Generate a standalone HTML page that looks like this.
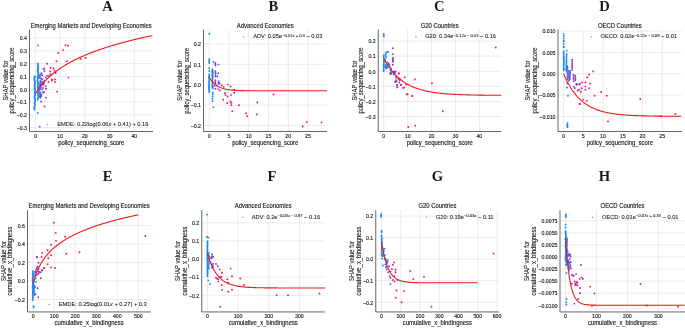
<!DOCTYPE html>
<html><head><meta charset="utf-8"><style>
html,body{margin:0;padding:0;background:#fff;width:685px;height:328px;overflow:hidden}
svg{display:block;will-change:transform}

</style></head><body>
<svg width="685" height="328" viewBox="0 0 685 328" font-family='"Liberation Sans", sans-serif' fill="#1a1a1a">
<rect width="685" height="328" fill="#fff"/>
<line x1="35.35" y1="29.5" x2="35.35" y2="131" stroke="#e6e6e6" stroke-width="0.8"/>
<line x1="60.09" y1="29.5" x2="60.09" y2="131" stroke="#e6e6e6" stroke-width="0.8"/>
<line x1="84.83" y1="29.5" x2="84.83" y2="131" stroke="#e6e6e6" stroke-width="0.8"/>
<line x1="109.57" y1="29.5" x2="109.57" y2="131" stroke="#e6e6e6" stroke-width="0.8"/>
<line x1="134.31" y1="29.5" x2="134.31" y2="131" stroke="#e6e6e6" stroke-width="0.8"/>
<line x1="29.5" y1="38.00" x2="153" y2="38.00" stroke="#e6e6e6" stroke-width="0.8"/>
<line x1="29.5" y1="50.80" x2="153" y2="50.80" stroke="#e6e6e6" stroke-width="0.8"/>
<line x1="29.5" y1="63.60" x2="153" y2="63.60" stroke="#e6e6e6" stroke-width="0.8"/>
<line x1="29.5" y1="76.40" x2="153" y2="76.40" stroke="#e6e6e6" stroke-width="0.8"/>
<line x1="29.5" y1="89.20" x2="153" y2="89.20" stroke="#e6e6e6" stroke-width="0.8"/>
<line x1="29.5" y1="102.00" x2="153" y2="102.00" stroke="#e6e6e6" stroke-width="0.8"/>
<line x1="29.5" y1="114.80" x2="153" y2="114.80" stroke="#e6e6e6" stroke-width="0.8"/>
<line x1="29.5" y1="127.60" x2="153" y2="127.60" stroke="#e6e6e6" stroke-width="0.8"/>
<line x1="209.25" y1="29.5" x2="209.25" y2="131" stroke="#e6e6e6" stroke-width="0.8"/>
<line x1="229.00" y1="29.5" x2="229.00" y2="131" stroke="#e6e6e6" stroke-width="0.8"/>
<line x1="248.75" y1="29.5" x2="248.75" y2="131" stroke="#e6e6e6" stroke-width="0.8"/>
<line x1="268.50" y1="29.5" x2="268.50" y2="131" stroke="#e6e6e6" stroke-width="0.8"/>
<line x1="288.25" y1="29.5" x2="288.25" y2="131" stroke="#e6e6e6" stroke-width="0.8"/>
<line x1="308.00" y1="29.5" x2="308.00" y2="131" stroke="#e6e6e6" stroke-width="0.8"/>
<line x1="203.5" y1="43.90" x2="327" y2="43.90" stroke="#e6e6e6" stroke-width="0.8"/>
<line x1="203.5" y1="64.30" x2="327" y2="64.30" stroke="#e6e6e6" stroke-width="0.8"/>
<line x1="203.5" y1="84.70" x2="327" y2="84.70" stroke="#e6e6e6" stroke-width="0.8"/>
<line x1="203.5" y1="105.10" x2="327" y2="105.10" stroke="#e6e6e6" stroke-width="0.8"/>
<line x1="203.5" y1="125.50" x2="327" y2="125.50" stroke="#e6e6e6" stroke-width="0.8"/>
<line x1="383.75" y1="29.5" x2="383.75" y2="131" stroke="#e6e6e6" stroke-width="0.8"/>
<line x1="407.65" y1="29.5" x2="407.65" y2="131" stroke="#e6e6e6" stroke-width="0.8"/>
<line x1="431.55" y1="29.5" x2="431.55" y2="131" stroke="#e6e6e6" stroke-width="0.8"/>
<line x1="455.45" y1="29.5" x2="455.45" y2="131" stroke="#e6e6e6" stroke-width="0.8"/>
<line x1="479.35" y1="29.5" x2="479.35" y2="131" stroke="#e6e6e6" stroke-width="0.8"/>
<line x1="378.25" y1="41.05" x2="501.25" y2="41.05" stroke="#e6e6e6" stroke-width="0.8"/>
<line x1="378.25" y1="56.15" x2="501.25" y2="56.15" stroke="#e6e6e6" stroke-width="0.8"/>
<line x1="378.25" y1="71.25" x2="501.25" y2="71.25" stroke="#e6e6e6" stroke-width="0.8"/>
<line x1="378.25" y1="86.35" x2="501.25" y2="86.35" stroke="#e6e6e6" stroke-width="0.8"/>
<line x1="378.25" y1="101.45" x2="501.25" y2="101.45" stroke="#e6e6e6" stroke-width="0.8"/>
<line x1="378.25" y1="116.55" x2="501.25" y2="116.55" stroke="#e6e6e6" stroke-width="0.8"/>
<line x1="563.50" y1="29.5" x2="563.50" y2="131" stroke="#e6e6e6" stroke-width="0.8"/>
<line x1="583.25" y1="29.5" x2="583.25" y2="131" stroke="#e6e6e6" stroke-width="0.8"/>
<line x1="603.00" y1="29.5" x2="603.00" y2="131" stroke="#e6e6e6" stroke-width="0.8"/>
<line x1="622.75" y1="29.5" x2="622.75" y2="131" stroke="#e6e6e6" stroke-width="0.8"/>
<line x1="642.50" y1="29.5" x2="642.50" y2="131" stroke="#e6e6e6" stroke-width="0.8"/>
<line x1="662.25" y1="29.5" x2="662.25" y2="131" stroke="#e6e6e6" stroke-width="0.8"/>
<line x1="558" y1="31.15" x2="681.75" y2="31.15" stroke="#e6e6e6" stroke-width="0.8"/>
<line x1="558" y1="52.45" x2="681.75" y2="52.45" stroke="#e6e6e6" stroke-width="0.8"/>
<line x1="558" y1="73.75" x2="681.75" y2="73.75" stroke="#e6e6e6" stroke-width="0.8"/>
<line x1="558" y1="95.05" x2="681.75" y2="95.05" stroke="#e6e6e6" stroke-width="0.8"/>
<line x1="558" y1="116.35" x2="681.75" y2="116.35" stroke="#e6e6e6" stroke-width="0.8"/>
<line x1="33.20" y1="210.25" x2="33.20" y2="311" stroke="#e6e6e6" stroke-width="0.8"/>
<line x1="54.21" y1="210.25" x2="54.21" y2="311" stroke="#e6e6e6" stroke-width="0.8"/>
<line x1="75.22" y1="210.25" x2="75.22" y2="311" stroke="#e6e6e6" stroke-width="0.8"/>
<line x1="96.23" y1="210.25" x2="96.23" y2="311" stroke="#e6e6e6" stroke-width="0.8"/>
<line x1="117.24" y1="210.25" x2="117.24" y2="311" stroke="#e6e6e6" stroke-width="0.8"/>
<line x1="138.25" y1="210.25" x2="138.25" y2="311" stroke="#e6e6e6" stroke-width="0.8"/>
<line x1="27.5" y1="225.50" x2="150.75" y2="225.50" stroke="#e6e6e6" stroke-width="0.8"/>
<line x1="27.5" y1="244.00" x2="150.75" y2="244.00" stroke="#e6e6e6" stroke-width="0.8"/>
<line x1="27.5" y1="262.50" x2="150.75" y2="262.50" stroke="#e6e6e6" stroke-width="0.8"/>
<line x1="27.5" y1="281.00" x2="150.75" y2="281.00" stroke="#e6e6e6" stroke-width="0.8"/>
<line x1="27.5" y1="299.50" x2="150.75" y2="299.50" stroke="#e6e6e6" stroke-width="0.8"/>
<line x1="207.40" y1="210.25" x2="207.40" y2="311" stroke="#e6e6e6" stroke-width="0.8"/>
<line x1="238.07" y1="210.25" x2="238.07" y2="311" stroke="#e6e6e6" stroke-width="0.8"/>
<line x1="268.74" y1="210.25" x2="268.74" y2="311" stroke="#e6e6e6" stroke-width="0.8"/>
<line x1="299.41" y1="210.25" x2="299.41" y2="311" stroke="#e6e6e6" stroke-width="0.8"/>
<line x1="201.75" y1="222.80" x2="324.75" y2="222.80" stroke="#e6e6e6" stroke-width="0.8"/>
<line x1="201.75" y1="240.90" x2="324.75" y2="240.90" stroke="#e6e6e6" stroke-width="0.8"/>
<line x1="201.75" y1="259.00" x2="324.75" y2="259.00" stroke="#e6e6e6" stroke-width="0.8"/>
<line x1="201.75" y1="277.10" x2="324.75" y2="277.10" stroke="#e6e6e6" stroke-width="0.8"/>
<line x1="201.75" y1="295.20" x2="324.75" y2="295.20" stroke="#e6e6e6" stroke-width="0.8"/>
<line x1="381.50" y1="210.25" x2="381.50" y2="311" stroke="#e6e6e6" stroke-width="0.8"/>
<line x1="400.75" y1="210.25" x2="400.75" y2="311" stroke="#e6e6e6" stroke-width="0.8"/>
<line x1="420.00" y1="210.25" x2="420.00" y2="311" stroke="#e6e6e6" stroke-width="0.8"/>
<line x1="439.25" y1="210.25" x2="439.25" y2="311" stroke="#e6e6e6" stroke-width="0.8"/>
<line x1="458.50" y1="210.25" x2="458.50" y2="311" stroke="#e6e6e6" stroke-width="0.8"/>
<line x1="477.75" y1="210.25" x2="477.75" y2="311" stroke="#e6e6e6" stroke-width="0.8"/>
<line x1="497.00" y1="210.25" x2="497.00" y2="311" stroke="#e6e6e6" stroke-width="0.8"/>
<line x1="375.75" y1="215.98" x2="499" y2="215.98" stroke="#e6e6e6" stroke-width="0.8"/>
<line x1="375.75" y1="237.54" x2="499" y2="237.54" stroke="#e6e6e6" stroke-width="0.8"/>
<line x1="375.75" y1="259.10" x2="499" y2="259.10" stroke="#e6e6e6" stroke-width="0.8"/>
<line x1="375.75" y1="280.66" x2="499" y2="280.66" stroke="#e6e6e6" stroke-width="0.8"/>
<line x1="375.75" y1="302.22" x2="499" y2="302.22" stroke="#e6e6e6" stroke-width="0.8"/>
<line x1="565.50" y1="210.25" x2="565.50" y2="311" stroke="#e6e6e6" stroke-width="0.8"/>
<line x1="596.45" y1="210.25" x2="596.45" y2="311" stroke="#e6e6e6" stroke-width="0.8"/>
<line x1="627.40" y1="210.25" x2="627.40" y2="311" stroke="#e6e6e6" stroke-width="0.8"/>
<line x1="658.35" y1="210.25" x2="658.35" y2="311" stroke="#e6e6e6" stroke-width="0.8"/>
<line x1="560" y1="220.82" x2="685" y2="220.82" stroke="#e6e6e6" stroke-width="0.8"/>
<line x1="560" y1="232.88" x2="685" y2="232.88" stroke="#e6e6e6" stroke-width="0.8"/>
<line x1="560" y1="244.94" x2="685" y2="244.94" stroke="#e6e6e6" stroke-width="0.8"/>
<line x1="560" y1="257.00" x2="685" y2="257.00" stroke="#e6e6e6" stroke-width="0.8"/>
<line x1="560" y1="269.06" x2="685" y2="269.06" stroke="#e6e6e6" stroke-width="0.8"/>
<line x1="560" y1="281.12" x2="685" y2="281.12" stroke="#e6e6e6" stroke-width="0.8"/>
<line x1="560" y1="293.18" x2="685" y2="293.18" stroke="#e6e6e6" stroke-width="0.8"/>
<line x1="560" y1="305.24" x2="685" y2="305.24" stroke="#e6e6e6" stroke-width="0.8"/>
<circle cx="34.62" cy="76.00" r="0.85" fill="#1a8cf0"/>
<circle cx="34.95" cy="76.63" r="0.85" fill="#1a8cf0"/>
<circle cx="34.84" cy="77.23" r="0.85" fill="#1a8cf0"/>
<circle cx="34.36" cy="77.96" r="0.85" fill="#1a8cf0"/>
<circle cx="34.34" cy="78.77" r="0.85" fill="#1a8cf0"/>
<circle cx="34.37" cy="79.53" r="0.85" fill="#1a8cf0"/>
<circle cx="34.72" cy="80.14" r="0.85" fill="#1a8cf0"/>
<circle cx="34.42" cy="81.09" r="0.85" fill="#1a8cf0"/>
<circle cx="34.93" cy="81.76" r="0.85" fill="#1a8cf0"/>
<circle cx="34.88" cy="82.78" r="0.85" fill="#1a8cf0"/>
<circle cx="35.28" cy="83.53" r="0.85" fill="#1a8cf0"/>
<circle cx="35.16" cy="84.11" r="0.85" fill="#1a8cf0"/>
<circle cx="34.44" cy="84.81" r="0.85" fill="#1a8cf0"/>
<circle cx="34.61" cy="85.43" r="0.85" fill="#1a8cf0"/>
<circle cx="34.48" cy="86.38" r="0.85" fill="#1a8cf0"/>
<circle cx="34.94" cy="87.22" r="0.85" fill="#1a8cf0"/>
<circle cx="34.85" cy="87.95" r="0.85" fill="#1a8cf0"/>
<circle cx="34.36" cy="88.55" r="0.85" fill="#1a8cf0"/>
<circle cx="34.98" cy="89.20" r="0.85" fill="#1a8cf0"/>
<circle cx="34.61" cy="89.97" r="0.85" fill="#1a8cf0"/>
<circle cx="34.75" cy="90.81" r="0.85" fill="#1a8cf0"/>
<circle cx="35.09" cy="91.51" r="0.85" fill="#1a8cf0"/>
<circle cx="34.54" cy="92.41" r="0.85" fill="#1a8cf0"/>
<circle cx="34.83" cy="93.25" r="0.85" fill="#1a8cf0"/>
<circle cx="35.03" cy="94.23" r="0.85" fill="#1a8cf0"/>
<circle cx="35.28" cy="94.92" r="0.85" fill="#1a8cf0"/>
<circle cx="34.72" cy="95.54" r="0.85" fill="#1a8cf0"/>
<circle cx="34.45" cy="96.46" r="0.85" fill="#1a8cf0"/>
<circle cx="34.34" cy="97.26" r="0.85" fill="#1a8cf0"/>
<circle cx="35.06" cy="98.14" r="0.85" fill="#1a8cf0"/>
<circle cx="35.18" cy="98.97" r="0.85" fill="#1a8cf0"/>
<circle cx="35.00" cy="99.68" r="0.85" fill="#1a8cf0"/>
<circle cx="34.88" cy="100.53" r="0.85" fill="#1a8cf0"/>
<circle cx="35.14" cy="101.31" r="0.85" fill="#1a8cf0"/>
<circle cx="34.77" cy="102.32" r="0.85" fill="#1a8cf0"/>
<circle cx="34.36" cy="103.20" r="0.85" fill="#1a8cf0"/>
<circle cx="34.95" cy="104.10" r="0.85" fill="#1a8cf0"/>
<circle cx="35.12" cy="105.13" r="0.85" fill="#1a8cf0"/>
<circle cx="34.69" cy="105.83" r="0.85" fill="#1a8cf0"/>
<circle cx="34.32" cy="106.71" r="0.85" fill="#1a8cf0"/>
<circle cx="34.47" cy="107.49" r="0.85" fill="#1a8cf0"/>
<circle cx="34.36" cy="108.11" r="0.85" fill="#1a8cf0"/>
<circle cx="34.43" cy="109.04" r="0.85" fill="#1a8cf0"/>
<circle cx="34.69" cy="109.72" r="0.85" fill="#1a8cf0"/>
<circle cx="37.58" cy="63.40" r="0.85" fill="#1a8cf0"/>
<circle cx="38.05" cy="64.18" r="0.85" fill="#1a8cf0"/>
<circle cx="38.32" cy="65.16" r="0.85" fill="#1a8cf0"/>
<circle cx="37.78" cy="66.13" r="0.85" fill="#1a8cf0"/>
<circle cx="37.86" cy="66.89" r="0.85" fill="#1a8cf0"/>
<circle cx="38.46" cy="67.88" r="0.85" fill="#1a8cf0"/>
<circle cx="37.68" cy="68.51" r="0.85" fill="#1a8cf0"/>
<circle cx="37.73" cy="69.18" r="0.85" fill="#1a8cf0"/>
<circle cx="38.09" cy="69.97" r="0.85" fill="#1a8cf0"/>
<circle cx="37.50" cy="70.66" r="0.85" fill="#1a8cf0"/>
<circle cx="37.87" cy="71.42" r="0.85" fill="#1a8cf0"/>
<circle cx="38.45" cy="72.25" r="0.85" fill="#1a8cf0"/>
<circle cx="38.02" cy="73.15" r="0.85" fill="#1a8cf0"/>
<circle cx="38.18" cy="74.00" r="0.85" fill="#1a8cf0"/>
<circle cx="38.40" cy="74.59" r="0.85" fill="#1a8cf0"/>
<circle cx="38.37" cy="75.52" r="0.85" fill="#1a8cf0"/>
<circle cx="37.89" cy="76.46" r="0.85" fill="#1a8cf0"/>
<circle cx="37.60" cy="77.22" r="0.85" fill="#1a8cf0"/>
<circle cx="37.56" cy="78.08" r="0.85" fill="#1a8cf0"/>
<circle cx="37.71" cy="78.67" r="0.85" fill="#1a8cf0"/>
<circle cx="37.84" cy="79.31" r="0.85" fill="#1a8cf0"/>
<circle cx="37.50" cy="79.90" r="0.85" fill="#1a8cf0"/>
<circle cx="37.60" cy="80.53" r="0.85" fill="#1a8cf0"/>
<circle cx="37.53" cy="81.26" r="0.85" fill="#1a8cf0"/>
<circle cx="38.11" cy="82.24" r="0.85" fill="#1a8cf0"/>
<circle cx="37.75" cy="82.87" r="0.85" fill="#1a8cf0"/>
<circle cx="37.86" cy="83.60" r="0.85" fill="#1a8cf0"/>
<circle cx="38.35" cy="84.22" r="0.85" fill="#1a8cf0"/>
<circle cx="37.97" cy="85.26" r="0.85" fill="#1a8cf0"/>
<circle cx="37.59" cy="86.05" r="0.85" fill="#1a8cf0"/>
<circle cx="37.84" cy="86.66" r="0.85" fill="#1a8cf0"/>
<circle cx="38.33" cy="87.35" r="0.85" fill="#1a8cf0"/>
<circle cx="37.52" cy="87.98" r="0.85" fill="#1a8cf0"/>
<circle cx="38.03" cy="89.00" r="0.85" fill="#1a8cf0"/>
<circle cx="38.04" cy="89.63" r="0.85" fill="#1a8cf0"/>
<circle cx="38.03" cy="90.20" r="0.85" fill="#1a8cf0"/>
<circle cx="38.36" cy="91.23" r="0.85" fill="#1a8cf0"/>
<circle cx="37.76" cy="92.13" r="0.85" fill="#1a8cf0"/>
<circle cx="37.67" cy="92.86" r="0.85" fill="#1a8cf0"/>
<circle cx="38.03" cy="93.79" r="0.85" fill="#1a8cf0"/>
<circle cx="37.83" cy="94.73" r="0.85" fill="#1a8cf0"/>
<circle cx="38.31" cy="95.39" r="0.85" fill="#1a8cf0"/>
<circle cx="38.35" cy="96.43" r="0.85" fill="#1a8cf0"/>
<circle cx="38.32" cy="97.37" r="0.85" fill="#1a8cf0"/>
<circle cx="37.73" cy="98.29" r="0.85" fill="#1a8cf0"/>
<circle cx="37.86" cy="99.10" r="0.85" fill="#1a8cf0"/>
<circle cx="37.53" cy="99.67" r="0.85" fill="#1a8cf0"/>
<circle cx="39.39" cy="90.01" r="0.95" fill="#3f78ea"/>
<circle cx="40.43" cy="83.63" r="0.95" fill="#3f78ea"/>
<circle cx="40.41" cy="97.69" r="0.95" fill="#3f78ea"/>
<circle cx="40.43" cy="81.48" r="0.95" fill="#3f78ea"/>
<circle cx="39.33" cy="77.90" r="0.95" fill="#3f78ea"/>
<circle cx="39.30" cy="77.31" r="0.95" fill="#3f78ea"/>
<circle cx="39.94" cy="95.41" r="0.95" fill="#3f78ea"/>
<circle cx="40.26" cy="84.47" r="0.95" fill="#3f78ea"/>
<circle cx="39.98" cy="92.79" r="0.95" fill="#3f78ea"/>
<circle cx="39.13" cy="89.18" r="0.95" fill="#3f78ea"/>
<circle cx="40.36" cy="92.34" r="0.95" fill="#3f78ea"/>
<circle cx="40.13" cy="84.43" r="0.95" fill="#3f78ea"/>
<circle cx="39.27" cy="92.52" r="0.95" fill="#3f78ea"/>
<circle cx="39.50" cy="92.82" r="0.95" fill="#3f78ea"/>
<circle cx="40.46" cy="82.29" r="0.95" fill="#3f78ea"/>
<circle cx="39.60" cy="96.62" r="0.95" fill="#3f78ea"/>
<circle cx="40.09" cy="76.42" r="0.95" fill="#3f78ea"/>
<circle cx="39.19" cy="75.93" r="0.95" fill="#3f78ea"/>
<circle cx="40.36" cy="92.97" r="0.95" fill="#3f78ea"/>
<circle cx="39.22" cy="93.49" r="0.95" fill="#3f78ea"/>
<circle cx="40.47" cy="89.09" r="0.95" fill="#3f78ea"/>
<circle cx="39.53" cy="86.27" r="0.95" fill="#3f78ea"/>
<circle cx="40.26" cy="74.34" r="0.95" fill="#6a55dc"/>
<circle cx="41.94" cy="89.59" r="0.95" fill="#6a55dc"/>
<circle cx="41.05" cy="96.41" r="0.95" fill="#6a55dc"/>
<circle cx="40.87" cy="94.92" r="0.95" fill="#6a55dc"/>
<circle cx="41.65" cy="79.07" r="0.95" fill="#6a55dc"/>
<circle cx="40.50" cy="81.03" r="0.95" fill="#6a55dc"/>
<circle cx="40.48" cy="88.07" r="0.95" fill="#6a55dc"/>
<circle cx="40.52" cy="84.06" r="0.95" fill="#6a55dc"/>
<circle cx="40.26" cy="95.84" r="0.95" fill="#6a55dc"/>
<circle cx="40.71" cy="85.00" r="0.95" fill="#6a55dc"/>
<circle cx="41.17" cy="95.70" r="0.95" fill="#6a55dc"/>
<circle cx="40.84" cy="96.03" r="0.95" fill="#6a55dc"/>
<circle cx="41.00" cy="86.76" r="0.95" fill="#6a55dc"/>
<circle cx="41.05" cy="74.45" r="0.95" fill="#6a55dc"/>
<circle cx="40.88" cy="78.39" r="0.95" fill="#6a55dc"/>
<circle cx="40.01" cy="93.18" r="0.95" fill="#6a55dc"/>
<circle cx="42.02" cy="82.10" r="0.95" fill="#8c3ccc"/>
<circle cx="43.68" cy="84.92" r="0.95" fill="#8c3ccc"/>
<circle cx="42.48" cy="83.62" r="0.95" fill="#8c3ccc"/>
<circle cx="43.17" cy="92.67" r="0.95" fill="#8c3ccc"/>
<circle cx="41.82" cy="85.05" r="0.95" fill="#8c3ccc"/>
<circle cx="42.25" cy="75.42" r="0.95" fill="#8c3ccc"/>
<circle cx="43.82" cy="83.26" r="0.95" fill="#8c3ccc"/>
<circle cx="43.19" cy="91.84" r="0.95" fill="#8c3ccc"/>
<circle cx="44.24" cy="81.07" r="0.95" fill="#8c3ccc"/>
<circle cx="38.10" cy="45.50" r="0.95" fill="#1a8cf0"/>
<circle cx="37.80" cy="112.90" r="0.95" fill="#1a8cf0"/>
<circle cx="39.70" cy="126.80" r="0.95" fill="#3f78ea"/>
<circle cx="65.50" cy="45.20" r="0.95" fill="#f41464"/>
<circle cx="68.00" cy="45.70" r="0.95" fill="#f41464"/>
<circle cx="63.20" cy="50.10" r="0.95" fill="#f41464"/>
<circle cx="58.30" cy="52.90" r="0.95" fill="#f41464"/>
<circle cx="56.50" cy="61.20" r="0.95" fill="#f41464"/>
<circle cx="66.90" cy="61.20" r="0.95" fill="#f41464"/>
<circle cx="50.50" cy="67.80" r="0.95" fill="#f41464"/>
<circle cx="53.50" cy="68.20" r="0.95" fill="#f41464"/>
<circle cx="50.10" cy="71.50" r="0.95" fill="#f41464"/>
<circle cx="50.50" cy="74.30" r="0.95" fill="#f41464"/>
<circle cx="55.60" cy="73.00" r="0.95" fill="#f41464"/>
<circle cx="52.00" cy="79.40" r="0.95" fill="#f41464"/>
<circle cx="52.00" cy="80.60" r="0.95" fill="#f41464"/>
<circle cx="55.00" cy="79.40" r="0.95" fill="#f41464"/>
<circle cx="55.00" cy="82.00" r="0.95" fill="#f41464"/>
<circle cx="68.40" cy="77.60" r="0.95" fill="#f41464"/>
<circle cx="57.10" cy="91.60" r="0.95" fill="#f41464"/>
<circle cx="80.50" cy="59.00" r="0.95" fill="#f41464"/>
<circle cx="85.75" cy="58.00" r="0.95" fill="#f41464"/>
<circle cx="54.50" cy="70.50" r="0.95" fill="#f41464"/>
<circle cx="49.00" cy="76.00" r="0.95" fill="#f41464"/>
<circle cx="47.10" cy="63.80" r="0.95" fill="#c21ea4"/>
<circle cx="46.00" cy="88.70" r="0.95" fill="#c21ea4"/>
<circle cx="48.50" cy="82.00" r="0.95" fill="#c21ea4"/>
<circle cx="43.40" cy="69.00" r="0.95" fill="#8c3ccc"/>
<circle cx="44.40" cy="68.40" r="0.95" fill="#8c3ccc"/>
<circle cx="41.60" cy="73.30" r="0.95" fill="#8c3ccc"/>
<circle cx="47.10" cy="75.70" r="0.95" fill="#8c3ccc"/>
<circle cx="45.90" cy="77.60" r="0.95" fill="#8c3ccc"/>
<circle cx="42.20" cy="79.40" r="0.95" fill="#8c3ccc"/>
<circle cx="42.80" cy="82.40" r="0.95" fill="#8c3ccc"/>
<circle cx="45.90" cy="86.10" r="0.95" fill="#8c3ccc"/>
<circle cx="41.40" cy="95.00" r="0.95" fill="#8c3ccc"/>
<circle cx="46.00" cy="97.80" r="0.95" fill="#8c3ccc"/>
<circle cx="41.00" cy="101.50" r="0.95" fill="#8c3ccc"/>
<circle cx="44.60" cy="106.50" r="0.95" fill="#8c3ccc"/>
<circle cx="44.50" cy="71.00" r="0.95" fill="#8c3ccc"/>
<circle cx="43.00" cy="88.00" r="0.95" fill="#8c3ccc"/>
<circle cx="44.00" cy="92.00" r="0.95" fill="#8c3ccc"/>
<circle cx="209.40" cy="33.80" r="0.95" fill="#1a8cf0"/>
<circle cx="209.22" cy="59.10" r="0.85" fill="#1a8cf0"/>
<circle cx="209.20" cy="60.00" r="0.85" fill="#1a8cf0"/>
<circle cx="209.19" cy="61.01" r="0.85" fill="#1a8cf0"/>
<circle cx="209.20" cy="61.93" r="0.85" fill="#1a8cf0"/>
<circle cx="209.24" cy="63.06" r="0.85" fill="#1a8cf0"/>
<circle cx="209.20" cy="68.30" r="0.95" fill="#1a8cf0"/>
<circle cx="209.20" cy="71.00" r="0.95" fill="#1a8cf0"/>
<circle cx="209.38" cy="74.20" r="0.85" fill="#1a8cf0"/>
<circle cx="209.22" cy="74.88" r="0.85" fill="#1a8cf0"/>
<circle cx="209.34" cy="75.90" r="0.85" fill="#1a8cf0"/>
<circle cx="209.05" cy="76.52" r="0.85" fill="#1a8cf0"/>
<circle cx="209.03" cy="77.30" r="0.85" fill="#1a8cf0"/>
<circle cx="209.03" cy="77.97" r="0.85" fill="#1a8cf0"/>
<circle cx="209.31" cy="78.85" r="0.85" fill="#1a8cf0"/>
<circle cx="209.06" cy="79.84" r="0.85" fill="#1a8cf0"/>
<circle cx="209.26" cy="80.75" r="0.85" fill="#1a8cf0"/>
<circle cx="209.35" cy="81.38" r="0.85" fill="#1a8cf0"/>
<circle cx="209.09" cy="82.40" r="0.85" fill="#1a8cf0"/>
<circle cx="209.16" cy="83.42" r="0.85" fill="#1a8cf0"/>
<circle cx="209.40" cy="84.21" r="0.85" fill="#1a8cf0"/>
<circle cx="209.06" cy="85.17" r="0.85" fill="#1a8cf0"/>
<circle cx="209.21" cy="85.94" r="0.85" fill="#1a8cf0"/>
<circle cx="209.08" cy="86.66" r="0.85" fill="#1a8cf0"/>
<circle cx="209.29" cy="87.37" r="0.85" fill="#1a8cf0"/>
<circle cx="209.22" cy="87.94" r="0.85" fill="#1a8cf0"/>
<circle cx="209.01" cy="88.71" r="0.85" fill="#1a8cf0"/>
<circle cx="209.25" cy="89.43" r="0.85" fill="#1a8cf0"/>
<circle cx="209.03" cy="90.24" r="0.85" fill="#1a8cf0"/>
<circle cx="209.32" cy="91.27" r="0.85" fill="#1a8cf0"/>
<circle cx="209.04" cy="92.30" r="0.85" fill="#1a8cf0"/>
<circle cx="213.60" cy="61.90" r="0.95" fill="#3f78ea"/>
<circle cx="212.33" cy="69.20" r="0.85" fill="#1a8cf0"/>
<circle cx="212.52" cy="70.37" r="0.85" fill="#1a8cf0"/>
<circle cx="212.64" cy="71.15" r="0.85" fill="#1a8cf0"/>
<circle cx="212.96" cy="72.39" r="0.85" fill="#1a8cf0"/>
<circle cx="212.42" cy="73.25" r="0.85" fill="#1a8cf0"/>
<circle cx="212.76" cy="74.50" r="0.85" fill="#1a8cf0"/>
<circle cx="212.37" cy="75.62" r="0.85" fill="#1a8cf0"/>
<circle cx="212.85" cy="76.35" r="0.85" fill="#1a8cf0"/>
<circle cx="212.36" cy="77.31" r="0.85" fill="#1a8cf0"/>
<circle cx="212.81" cy="78.57" r="0.85" fill="#1a8cf0"/>
<circle cx="212.37" cy="79.75" r="0.85" fill="#1a8cf0"/>
<circle cx="212.35" cy="80.97" r="0.85" fill="#1a8cf0"/>
<circle cx="212.66" cy="82.18" r="0.85" fill="#1a8cf0"/>
<circle cx="212.74" cy="83.09" r="0.85" fill="#1a8cf0"/>
<circle cx="212.51" cy="84.34" r="0.85" fill="#1a8cf0"/>
<circle cx="212.72" cy="85.12" r="0.85" fill="#1a8cf0"/>
<circle cx="212.39" cy="85.96" r="0.85" fill="#1a8cf0"/>
<circle cx="212.34" cy="86.76" r="0.85" fill="#1a8cf0"/>
<circle cx="212.55" cy="87.58" r="0.85" fill="#1a8cf0"/>
<circle cx="212.91" cy="88.47" r="0.85" fill="#1a8cf0"/>
<circle cx="212.30" cy="70.00" r="0.85" fill="#3f78ea"/>
<circle cx="212.21" cy="71.29" r="0.85" fill="#3f78ea"/>
<circle cx="212.15" cy="72.43" r="0.85" fill="#3f78ea"/>
<circle cx="212.44" cy="73.56" r="0.85" fill="#3f78ea"/>
<circle cx="212.11" cy="75.21" r="0.85" fill="#3f78ea"/>
<circle cx="212.56" cy="76.79" r="0.85" fill="#3f78ea"/>
<circle cx="212.49" cy="78.01" r="0.85" fill="#3f78ea"/>
<circle cx="212.30" cy="79.54" r="0.85" fill="#3f78ea"/>
<circle cx="212.24" cy="81.47" r="0.85" fill="#3f78ea"/>
<circle cx="212.41" cy="83.07" r="0.85" fill="#3f78ea"/>
<circle cx="212.21" cy="85.14" r="0.85" fill="#3f78ea"/>
<circle cx="212.42" cy="87.05" r="0.85" fill="#3f78ea"/>
<circle cx="212.74" cy="92.80" r="0.95" fill="#1a8cf0"/>
<circle cx="212.71" cy="94.50" r="0.95" fill="#1a8cf0"/>
<circle cx="212.53" cy="96.50" r="0.95" fill="#1a8cf0"/>
<circle cx="212.58" cy="98.80" r="0.95" fill="#1a8cf0"/>
<circle cx="212.54" cy="101.00" r="0.95" fill="#1a8cf0"/>
<circle cx="213.40" cy="107.30" r="0.95" fill="#1a8cf0"/>
<circle cx="215.50" cy="62.80" r="0.85" fill="#6a55dc"/>
<circle cx="215.27" cy="63.65" r="0.85" fill="#6a55dc"/>
<circle cx="215.54" cy="64.40" r="0.85" fill="#6a55dc"/>
<circle cx="215.47" cy="65.63" r="0.85" fill="#6a55dc"/>
<circle cx="215.25" cy="71.00" r="0.85" fill="#6a55dc"/>
<circle cx="215.38" cy="71.88" r="0.85" fill="#6a55dc"/>
<circle cx="215.37" cy="72.67" r="0.85" fill="#6a55dc"/>
<circle cx="215.68" cy="73.53" r="0.85" fill="#6a55dc"/>
<circle cx="215.43" cy="74.81" r="0.85" fill="#6a55dc"/>
<circle cx="215.68" cy="75.66" r="0.85" fill="#6a55dc"/>
<circle cx="215.31" cy="76.54" r="0.85" fill="#6a55dc"/>
<circle cx="215.35" cy="80.00" r="0.85" fill="#8c3ccc"/>
<circle cx="215.40" cy="80.98" r="0.85" fill="#8c3ccc"/>
<circle cx="215.40" cy="81.81" r="0.85" fill="#8c3ccc"/>
<circle cx="215.31" cy="82.51" r="0.85" fill="#8c3ccc"/>
<circle cx="215.36" cy="83.26" r="0.85" fill="#8c3ccc"/>
<circle cx="218.50" cy="64.60" r="0.95" fill="#8c3ccc"/>
<circle cx="218.20" cy="73.30" r="0.95" fill="#8c3ccc"/>
<circle cx="217.30" cy="76.50" r="0.95" fill="#8c3ccc"/>
<circle cx="218.60" cy="81.10" r="0.95" fill="#8c3ccc"/>
<circle cx="218.60" cy="82.40" r="0.95" fill="#8c3ccc"/>
<circle cx="219.60" cy="83.40" r="0.95" fill="#8c3ccc"/>
<circle cx="218.60" cy="83.70" r="0.95" fill="#8c3ccc"/>
<circle cx="215.40" cy="88.70" r="0.95" fill="#8c3ccc"/>
<circle cx="218.20" cy="89.10" r="0.95" fill="#8c3ccc"/>
<circle cx="220.00" cy="90.50" r="0.95" fill="#8c3ccc"/>
<circle cx="214.50" cy="86.00" r="0.95" fill="#8c3ccc"/>
<circle cx="216.50" cy="85.50" r="0.95" fill="#8c3ccc"/>
<circle cx="221.80" cy="85.50" r="0.95" fill="#c21ea4"/>
<circle cx="223.70" cy="86.90" r="0.95" fill="#c21ea4"/>
<circle cx="228.00" cy="84.60" r="0.95" fill="#f41464"/>
<circle cx="230.70" cy="86.40" r="0.95" fill="#f41464"/>
<circle cx="224.90" cy="93.30" r="0.95" fill="#f41464"/>
<circle cx="225.50" cy="95.10" r="0.95" fill="#f41464"/>
<circle cx="227.60" cy="96.50" r="0.95" fill="#f41464"/>
<circle cx="231.00" cy="95.10" r="0.95" fill="#f41464"/>
<circle cx="223.20" cy="99.70" r="0.95" fill="#f41464"/>
<circle cx="227.30" cy="103.30" r="0.95" fill="#f41464"/>
<circle cx="230.50" cy="101.50" r="0.95" fill="#f41464"/>
<circle cx="231.40" cy="102.90" r="0.95" fill="#f41464"/>
<circle cx="231.40" cy="105.20" r="0.95" fill="#f41464"/>
<circle cx="234.30" cy="89.70" r="0.95" fill="#f41464"/>
<circle cx="234.30" cy="92.80" r="0.95" fill="#f41464"/>
<circle cx="273.50" cy="94.50" r="0.95" fill="#f41464"/>
<circle cx="257.25" cy="102.50" r="0.95" fill="#f41464"/>
<circle cx="239.00" cy="105.25" r="0.95" fill="#f41464"/>
<circle cx="232.25" cy="111.25" r="0.95" fill="#f41464"/>
<circle cx="246.00" cy="113.25" r="0.95" fill="#f41464"/>
<circle cx="247.25" cy="116.25" r="0.95" fill="#f41464"/>
<circle cx="256.75" cy="114.50" r="0.95" fill="#f41464"/>
<circle cx="302.75" cy="126.50" r="0.95" fill="#f41464"/>
<circle cx="306.75" cy="122.00" r="0.95" fill="#f41464"/>
<circle cx="321.50" cy="122.50" r="0.95" fill="#f41464"/>
<circle cx="383.61" cy="33.80" r="0.85" fill="#1a8cf0"/>
<circle cx="383.69" cy="34.59" r="0.85" fill="#1a8cf0"/>
<circle cx="383.81" cy="35.54" r="0.85" fill="#1a8cf0"/>
<circle cx="383.86" cy="36.58" r="0.85" fill="#1a8cf0"/>
<circle cx="383.85" cy="55.00" r="0.85" fill="#1a8cf0"/>
<circle cx="383.63" cy="55.75" r="0.85" fill="#1a8cf0"/>
<circle cx="383.56" cy="56.78" r="0.85" fill="#1a8cf0"/>
<circle cx="383.76" cy="57.69" r="0.85" fill="#1a8cf0"/>
<circle cx="383.83" cy="58.27" r="0.85" fill="#1a8cf0"/>
<circle cx="383.75" cy="59.26" r="0.85" fill="#1a8cf0"/>
<circle cx="383.82" cy="60.17" r="0.85" fill="#1a8cf0"/>
<circle cx="383.71" cy="60.80" r="0.85" fill="#1a8cf0"/>
<circle cx="383.83" cy="61.60" r="0.85" fill="#1a8cf0"/>
<circle cx="383.83" cy="62.54" r="0.85" fill="#1a8cf0"/>
<circle cx="383.86" cy="63.38" r="0.85" fill="#1a8cf0"/>
<circle cx="383.78" cy="64.27" r="0.85" fill="#1a8cf0"/>
<circle cx="383.51" cy="64.94" r="0.85" fill="#1a8cf0"/>
<circle cx="383.64" cy="65.57" r="0.85" fill="#1a8cf0"/>
<circle cx="383.83" cy="66.18" r="0.85" fill="#1a8cf0"/>
<circle cx="383.75" cy="67.00" r="0.85" fill="#1a8cf0"/>
<circle cx="383.77" cy="67.87" r="0.85" fill="#1a8cf0"/>
<circle cx="383.50" cy="68.66" r="0.85" fill="#1a8cf0"/>
<circle cx="383.80" cy="69.60" r="0.85" fill="#1a8cf0"/>
<circle cx="383.71" cy="70.40" r="0.85" fill="#1a8cf0"/>
<circle cx="383.53" cy="71.28" r="0.85" fill="#1a8cf0"/>
<circle cx="385.80" cy="52.80" r="0.95" fill="#1a8cf0"/>
<circle cx="387.10" cy="51.90" r="0.95" fill="#1a8cf0"/>
<circle cx="388.30" cy="51.90" r="0.95" fill="#1a8cf0"/>
<circle cx="385.75" cy="54.00" r="0.85" fill="#1a8cf0"/>
<circle cx="385.76" cy="54.89" r="0.85" fill="#1a8cf0"/>
<circle cx="385.72" cy="56.26" r="0.85" fill="#1a8cf0"/>
<circle cx="386.19" cy="57.63" r="0.85" fill="#1a8cf0"/>
<circle cx="385.96" cy="64.75" r="0.95" fill="#1a8cf0"/>
<circle cx="386.71" cy="68.20" r="0.95" fill="#1a8cf0"/>
<circle cx="386.54" cy="66.71" r="0.95" fill="#1a8cf0"/>
<circle cx="385.19" cy="60.77" r="0.95" fill="#1a8cf0"/>
<circle cx="385.63" cy="67.92" r="0.95" fill="#1a8cf0"/>
<circle cx="385.76" cy="65.81" r="0.95" fill="#1a8cf0"/>
<circle cx="385.03" cy="59.73" r="0.95" fill="#1a8cf0"/>
<circle cx="385.67" cy="67.06" r="0.95" fill="#1a8cf0"/>
<circle cx="386.73" cy="67.11" r="0.95" fill="#1a8cf0"/>
<circle cx="387.94" cy="64.58" r="0.95" fill="#3f78ea"/>
<circle cx="388.20" cy="64.33" r="0.95" fill="#3f78ea"/>
<circle cx="387.68" cy="66.47" r="0.95" fill="#3f78ea"/>
<circle cx="387.80" cy="66.89" r="0.95" fill="#3f78ea"/>
<circle cx="392.80" cy="48.20" r="0.95" fill="#8c3ccc"/>
<circle cx="392.80" cy="54.10" r="0.95" fill="#8c3ccc"/>
<circle cx="392.80" cy="64.70" r="0.95" fill="#8c3ccc"/>
<circle cx="392.97" cy="57.80" r="0.85" fill="#8c3ccc"/>
<circle cx="392.78" cy="58.44" r="0.85" fill="#8c3ccc"/>
<circle cx="392.99" cy="59.51" r="0.85" fill="#8c3ccc"/>
<circle cx="392.71" cy="60.38" r="0.85" fill="#8c3ccc"/>
<circle cx="392.98" cy="61.13" r="0.85" fill="#8c3ccc"/>
<circle cx="392.83" cy="61.87" r="0.85" fill="#8c3ccc"/>
<circle cx="390.84" cy="73.96" r="0.95" fill="#6a55dc"/>
<circle cx="390.14" cy="72.99" r="0.95" fill="#6a55dc"/>
<circle cx="390.82" cy="73.47" r="0.95" fill="#6a55dc"/>
<circle cx="391.17" cy="68.69" r="0.95" fill="#6a55dc"/>
<circle cx="391.52" cy="70.55" r="0.95" fill="#6a55dc"/>
<circle cx="389.94" cy="67.03" r="0.95" fill="#6a55dc"/>
<circle cx="387.40" cy="62.40" r="0.95" fill="#6a55dc"/>
<circle cx="388.50" cy="63.50" r="0.95" fill="#6a55dc"/>
<circle cx="389.50" cy="65.00" r="0.95" fill="#6a55dc"/>
<circle cx="390.50" cy="70.40" r="0.95" fill="#6a55dc"/>
<circle cx="390.80" cy="72.50" r="0.95" fill="#6a55dc"/>
<circle cx="390.50" cy="74.00" r="0.95" fill="#6a55dc"/>
<circle cx="393.50" cy="71.60" r="0.95" fill="#6a55dc"/>
<circle cx="393.50" cy="73.20" r="0.95" fill="#6a55dc"/>
<circle cx="393.80" cy="74.60" r="0.95" fill="#6a55dc"/>
<circle cx="394.80" cy="72.20" r="0.95" fill="#6a55dc"/>
<circle cx="392.00" cy="72.00" r="0.95" fill="#6a55dc"/>
<circle cx="396.00" cy="77.70" r="0.95" fill="#8c3ccc"/>
<circle cx="395.40" cy="82.00" r="0.95" fill="#8c3ccc"/>
<circle cx="396.60" cy="81.30" r="0.95" fill="#8c3ccc"/>
<circle cx="397.20" cy="85.00" r="0.95" fill="#8c3ccc"/>
<circle cx="397.20" cy="87.40" r="0.95" fill="#8c3ccc"/>
<circle cx="398.70" cy="73.40" r="0.95" fill="#c21ea4"/>
<circle cx="398.40" cy="78.90" r="0.95" fill="#c21ea4"/>
<circle cx="399.60" cy="80.10" r="0.95" fill="#c21ea4"/>
<circle cx="400.90" cy="85.00" r="0.95" fill="#c21ea4"/>
<circle cx="394.89" cy="72.76" r="0.95" fill="#8c3ccc"/>
<circle cx="394.54" cy="71.89" r="0.95" fill="#8c3ccc"/>
<circle cx="394.62" cy="72.39" r="0.95" fill="#8c3ccc"/>
<circle cx="395.51" cy="71.50" r="0.95" fill="#8c3ccc"/>
<circle cx="396.30" cy="76.40" r="0.95" fill="#8c3ccc"/>
<circle cx="394.80" cy="81.80" r="0.95" fill="#8c3ccc"/>
<circle cx="396.30" cy="80.20" r="0.95" fill="#8c3ccc"/>
<circle cx="397.50" cy="87.10" r="0.95" fill="#8c3ccc"/>
<circle cx="397.00" cy="84.80" r="0.95" fill="#8c3ccc"/>
<circle cx="399.30" cy="78.70" r="0.95" fill="#c21ea4"/>
<circle cx="400.10" cy="79.50" r="0.95" fill="#c21ea4"/>
<circle cx="399.30" cy="82.50" r="0.95" fill="#c21ea4"/>
<circle cx="400.90" cy="84.80" r="0.95" fill="#c21ea4"/>
<circle cx="399.00" cy="73.40" r="0.95" fill="#f41464"/>
<circle cx="403.20" cy="87.90" r="0.95" fill="#f41464"/>
<circle cx="404.20" cy="87.60" r="0.95" fill="#f41464"/>
<circle cx="404.70" cy="77.20" r="0.95" fill="#f41464"/>
<circle cx="406.20" cy="84.50" r="0.95" fill="#f41464"/>
<circle cx="406.70" cy="94.30" r="0.95" fill="#f41464"/>
<circle cx="407.70" cy="94.30" r="0.95" fill="#f41464"/>
<circle cx="412.30" cy="95.90" r="0.95" fill="#f41464"/>
<circle cx="414.90" cy="79.50" r="0.95" fill="#f41464"/>
<circle cx="432.00" cy="83.25" r="0.95" fill="#f41464"/>
<circle cx="442.75" cy="111.25" r="0.95" fill="#f41464"/>
<circle cx="408.25" cy="127.00" r="0.95" fill="#f41464"/>
<circle cx="415.25" cy="125.75" r="0.95" fill="#f41464"/>
<circle cx="495.75" cy="47.50" r="0.95" fill="#f41464"/>
<circle cx="412.25" cy="96.00" r="0.95" fill="#f41464"/>
<circle cx="563.70" cy="34.10" r="0.95" fill="#1a8cf0"/>
<circle cx="563.70" cy="36.00" r="0.95" fill="#1a8cf0"/>
<circle cx="563.70" cy="38.40" r="0.95" fill="#1a8cf0"/>
<circle cx="563.70" cy="40.50" r="0.95" fill="#1a8cf0"/>
<circle cx="563.70" cy="41.40" r="0.95" fill="#1a8cf0"/>
<circle cx="563.70" cy="43.70" r="0.95" fill="#1a8cf0"/>
<circle cx="563.70" cy="46.50" r="0.95" fill="#1a8cf0"/>
<circle cx="563.70" cy="47.40" r="0.95" fill="#1a8cf0"/>
<circle cx="563.78" cy="51.00" r="0.85" fill="#1a8cf0"/>
<circle cx="563.59" cy="51.96" r="0.85" fill="#1a8cf0"/>
<circle cx="563.76" cy="52.97" r="0.85" fill="#1a8cf0"/>
<circle cx="563.64" cy="53.96" r="0.85" fill="#1a8cf0"/>
<circle cx="563.67" cy="54.70" r="0.85" fill="#1a8cf0"/>
<circle cx="563.73" cy="55.74" r="0.85" fill="#1a8cf0"/>
<circle cx="563.68" cy="56.47" r="0.85" fill="#1a8cf0"/>
<circle cx="563.56" cy="57.16" r="0.85" fill="#1a8cf0"/>
<circle cx="563.80" cy="57.77" r="0.85" fill="#1a8cf0"/>
<circle cx="563.83" cy="58.47" r="0.85" fill="#1a8cf0"/>
<circle cx="563.63" cy="59.15" r="0.85" fill="#1a8cf0"/>
<circle cx="563.61" cy="59.95" r="0.85" fill="#1a8cf0"/>
<circle cx="563.84" cy="60.69" r="0.85" fill="#1a8cf0"/>
<circle cx="563.79" cy="61.68" r="0.85" fill="#1a8cf0"/>
<circle cx="563.82" cy="62.54" r="0.85" fill="#1a8cf0"/>
<circle cx="563.71" cy="63.55" r="0.85" fill="#1a8cf0"/>
<circle cx="563.56" cy="64.46" r="0.85" fill="#1a8cf0"/>
<circle cx="563.69" cy="65.37" r="0.85" fill="#1a8cf0"/>
<circle cx="563.74" cy="66.29" r="0.85" fill="#1a8cf0"/>
<circle cx="563.56" cy="66.99" r="0.85" fill="#1a8cf0"/>
<circle cx="563.59" cy="67.99" r="0.85" fill="#1a8cf0"/>
<circle cx="563.65" cy="68.78" r="0.85" fill="#1a8cf0"/>
<circle cx="563.77" cy="69.48" r="0.85" fill="#1a8cf0"/>
<circle cx="563.63" cy="70.51" r="0.85" fill="#1a8cf0"/>
<circle cx="566.70" cy="50.60" r="0.95" fill="#1a8cf0"/>
<circle cx="566.70" cy="54.20" r="0.95" fill="#1a8cf0"/>
<circle cx="566.50" cy="56.00" r="0.95" fill="#1a8cf0"/>
<circle cx="566.50" cy="57.50" r="0.95" fill="#1a8cf0"/>
<circle cx="566.50" cy="59.50" r="0.95" fill="#1a8cf0"/>
<circle cx="566.50" cy="61.00" r="0.95" fill="#1a8cf0"/>
<circle cx="566.50" cy="62.50" r="0.95" fill="#1a8cf0"/>
<circle cx="566.32" cy="63.50" r="0.85" fill="#1a8cf0"/>
<circle cx="566.36" cy="64.33" r="0.85" fill="#1a8cf0"/>
<circle cx="566.26" cy="64.97" r="0.85" fill="#1a8cf0"/>
<circle cx="566.56" cy="65.63" r="0.85" fill="#1a8cf0"/>
<circle cx="566.29" cy="66.43" r="0.85" fill="#1a8cf0"/>
<circle cx="566.60" cy="67.42" r="0.85" fill="#1a8cf0"/>
<circle cx="566.26" cy="68.20" r="0.85" fill="#1a8cf0"/>
<circle cx="566.24" cy="68.85" r="0.85" fill="#1a8cf0"/>
<circle cx="566.24" cy="69.57" r="0.85" fill="#1a8cf0"/>
<circle cx="566.30" cy="70.25" r="0.85" fill="#1a8cf0"/>
<circle cx="566.55" cy="71.08" r="0.85" fill="#1a8cf0"/>
<circle cx="567.43" cy="66.00" r="0.85" fill="#3f78ea"/>
<circle cx="567.52" cy="66.95" r="0.85" fill="#3f78ea"/>
<circle cx="567.37" cy="67.87" r="0.85" fill="#3f78ea"/>
<circle cx="567.32" cy="68.61" r="0.85" fill="#3f78ea"/>
<circle cx="567.20" cy="69.89" r="0.85" fill="#3f78ea"/>
<circle cx="567.60" cy="70.89" r="0.85" fill="#3f78ea"/>
<circle cx="567.27" cy="72.11" r="0.85" fill="#3f78ea"/>
<circle cx="567.30" cy="72.97" r="0.85" fill="#3f78ea"/>
<circle cx="567.46" cy="73.91" r="0.85" fill="#3f78ea"/>
<circle cx="567.78" cy="75.19" r="0.85" fill="#3f78ea"/>
<circle cx="567.12" cy="76.41" r="0.85" fill="#3f78ea"/>
<circle cx="567.67" cy="77.13" r="0.85" fill="#3f78ea"/>
<circle cx="567.48" cy="78.37" r="0.85" fill="#3f78ea"/>
<circle cx="567.10" cy="79.42" r="0.85" fill="#3f78ea"/>
<circle cx="567.10" cy="83.60" r="0.95" fill="#1a8cf0"/>
<circle cx="567.10" cy="87.50" r="0.95" fill="#1a8cf0"/>
<circle cx="567.90" cy="95.80" r="0.95" fill="#1a8cf0"/>
<circle cx="567.53" cy="122.80" r="0.85" fill="#1a8cf0"/>
<circle cx="567.51" cy="123.76" r="0.85" fill="#1a8cf0"/>
<circle cx="567.32" cy="124.78" r="0.85" fill="#1a8cf0"/>
<circle cx="567.30" cy="125.40" r="0.85" fill="#1a8cf0"/>
<circle cx="567.45" cy="126.21" r="0.85" fill="#1a8cf0"/>
<circle cx="567.47" cy="127.22" r="0.85" fill="#1a8cf0"/>
<circle cx="572.20" cy="59.80" r="0.95" fill="#8c3ccc"/>
<circle cx="572.20" cy="61.50" r="0.95" fill="#8c3ccc"/>
<circle cx="572.20" cy="63.50" r="0.95" fill="#8c3ccc"/>
<circle cx="572.20" cy="65.00" r="0.95" fill="#8c3ccc"/>
<circle cx="572.20" cy="66.50" r="0.95" fill="#8c3ccc"/>
<circle cx="572.20" cy="68.00" r="0.95" fill="#8c3ccc"/>
<circle cx="572.20" cy="69.90" r="0.95" fill="#8c3ccc"/>
<circle cx="570.11" cy="70.80" r="0.85" fill="#6a55dc"/>
<circle cx="569.94" cy="71.87" r="0.85" fill="#6a55dc"/>
<circle cx="570.13" cy="72.67" r="0.85" fill="#6a55dc"/>
<circle cx="570.24" cy="73.59" r="0.85" fill="#6a55dc"/>
<circle cx="569.74" cy="74.79" r="0.85" fill="#6a55dc"/>
<circle cx="569.70" cy="75.64" r="0.85" fill="#6a55dc"/>
<circle cx="570.06" cy="76.83" r="0.85" fill="#6a55dc"/>
<circle cx="569.56" cy="77.68" r="0.85" fill="#6a55dc"/>
<circle cx="569.97" cy="78.79" r="0.85" fill="#6a55dc"/>
<circle cx="569.68" cy="79.82" r="0.85" fill="#6a55dc"/>
<circle cx="573.40" cy="74.50" r="0.85" fill="#8c3ccc"/>
<circle cx="573.58" cy="75.56" r="0.85" fill="#8c3ccc"/>
<circle cx="573.66" cy="77.09" r="0.85" fill="#8c3ccc"/>
<circle cx="573.59" cy="78.56" r="0.85" fill="#8c3ccc"/>
<circle cx="573.50" cy="79.57" r="0.85" fill="#8c3ccc"/>
<circle cx="573.68" cy="81.10" r="0.85" fill="#8c3ccc"/>
<circle cx="575.21" cy="75.50" r="0.85" fill="#8c3ccc"/>
<circle cx="575.47" cy="76.80" r="0.85" fill="#8c3ccc"/>
<circle cx="575.30" cy="78.04" r="0.85" fill="#8c3ccc"/>
<circle cx="575.57" cy="79.47" r="0.85" fill="#8c3ccc"/>
<circle cx="575.21" cy="80.55" r="0.85" fill="#8c3ccc"/>
<circle cx="568.95" cy="70.70" r="0.85" fill="#6a55dc"/>
<circle cx="568.82" cy="72.03" r="0.85" fill="#6a55dc"/>
<circle cx="569.14" cy="73.45" r="0.85" fill="#6a55dc"/>
<circle cx="568.82" cy="74.65" r="0.85" fill="#6a55dc"/>
<circle cx="568.89" cy="76.19" r="0.85" fill="#6a55dc"/>
<circle cx="568.84" cy="77.62" r="0.85" fill="#6a55dc"/>
<circle cx="569.16" cy="78.62" r="0.85" fill="#6a55dc"/>
<circle cx="569.27" cy="79.67" r="0.85" fill="#6a55dc"/>
<circle cx="568.81" cy="80.87" r="0.85" fill="#6a55dc"/>
<circle cx="576.50" cy="84.80" r="0.95" fill="#8c3ccc"/>
<circle cx="579.69" cy="83.86" r="0.95" fill="#8c3ccc"/>
<circle cx="576.36" cy="83.98" r="0.95" fill="#8c3ccc"/>
<circle cx="579.84" cy="83.86" r="0.95" fill="#8c3ccc"/>
<circle cx="574.00" cy="86.70" r="0.95" fill="#8c3ccc"/>
<circle cx="574.80" cy="88.20" r="0.95" fill="#8c3ccc"/>
<circle cx="577.00" cy="84.40" r="0.95" fill="#c21ea4"/>
<circle cx="579.30" cy="84.40" r="0.95" fill="#c21ea4"/>
<circle cx="577.80" cy="90.50" r="0.95" fill="#c21ea4"/>
<circle cx="579.30" cy="89.70" r="0.95" fill="#c21ea4"/>
<circle cx="580.90" cy="92.00" r="0.95" fill="#c21ea4"/>
<circle cx="581.60" cy="88.20" r="0.95" fill="#c21ea4"/>
<circle cx="579.50" cy="104.00" r="0.95" fill="#c21ea4"/>
<circle cx="593.10" cy="71.40" r="0.95" fill="#f41464"/>
<circle cx="589.20" cy="74.50" r="0.95" fill="#f41464"/>
<circle cx="587.30" cy="77.20" r="0.95" fill="#f41464"/>
<circle cx="582.20" cy="82.50" r="0.95" fill="#f41464"/>
<circle cx="585.40" cy="82.50" r="0.95" fill="#f41464"/>
<circle cx="585.40" cy="86.40" r="0.95" fill="#f41464"/>
<circle cx="585.40" cy="89.70" r="0.95" fill="#f41464"/>
<circle cx="589.20" cy="88.20" r="0.95" fill="#f41464"/>
<circle cx="590.00" cy="83.60" r="0.95" fill="#f41464"/>
<circle cx="594.60" cy="95.80" r="0.95" fill="#f41464"/>
<circle cx="601.10" cy="92.00" r="0.95" fill="#f41464"/>
<circle cx="606.80" cy="95.80" r="0.95" fill="#f41464"/>
<circle cx="583.20" cy="99.60" r="0.95" fill="#f41464"/>
<circle cx="586.70" cy="100.90" r="0.95" fill="#f41464"/>
<circle cx="580.10" cy="103.90" r="0.95" fill="#f41464"/>
<circle cx="640.25" cy="99.00" r="0.95" fill="#f41464"/>
<circle cx="608.00" cy="121.50" r="0.95" fill="#f41464"/>
<circle cx="661.00" cy="116.25" r="0.95" fill="#f41464"/>
<circle cx="675.50" cy="114.00" r="0.95" fill="#f41464"/>
<circle cx="32.58" cy="271.00" r="0.85" fill="#1a8cf0"/>
<circle cx="32.75" cy="271.59" r="0.85" fill="#1a8cf0"/>
<circle cx="32.99" cy="272.58" r="0.85" fill="#1a8cf0"/>
<circle cx="33.05" cy="273.49" r="0.85" fill="#1a8cf0"/>
<circle cx="32.71" cy="274.50" r="0.85" fill="#1a8cf0"/>
<circle cx="33.02" cy="275.15" r="0.85" fill="#1a8cf0"/>
<circle cx="32.57" cy="276.07" r="0.85" fill="#1a8cf0"/>
<circle cx="32.74" cy="276.95" r="0.85" fill="#1a8cf0"/>
<circle cx="32.72" cy="277.68" r="0.85" fill="#1a8cf0"/>
<circle cx="32.55" cy="278.33" r="0.85" fill="#1a8cf0"/>
<circle cx="32.73" cy="279.02" r="0.85" fill="#1a8cf0"/>
<circle cx="32.61" cy="280.04" r="0.85" fill="#1a8cf0"/>
<circle cx="32.65" cy="281.06" r="0.85" fill="#1a8cf0"/>
<circle cx="32.96" cy="281.79" r="0.85" fill="#1a8cf0"/>
<circle cx="32.77" cy="282.75" r="0.85" fill="#1a8cf0"/>
<circle cx="32.79" cy="283.33" r="0.85" fill="#1a8cf0"/>
<circle cx="33.01" cy="284.07" r="0.85" fill="#1a8cf0"/>
<circle cx="32.73" cy="284.72" r="0.85" fill="#1a8cf0"/>
<circle cx="32.57" cy="285.71" r="0.85" fill="#1a8cf0"/>
<circle cx="32.96" cy="286.47" r="0.85" fill="#1a8cf0"/>
<circle cx="32.57" cy="287.40" r="0.85" fill="#1a8cf0"/>
<circle cx="32.58" cy="287.97" r="0.85" fill="#1a8cf0"/>
<circle cx="32.68" cy="288.98" r="0.85" fill="#1a8cf0"/>
<circle cx="33.00" cy="289.90" r="0.85" fill="#1a8cf0"/>
<circle cx="32.69" cy="290.62" r="0.85" fill="#1a8cf0"/>
<circle cx="32.86" cy="291.64" r="0.85" fill="#1a8cf0"/>
<circle cx="32.91" cy="292.32" r="0.85" fill="#1a8cf0"/>
<circle cx="32.69" cy="293.04" r="0.85" fill="#1a8cf0"/>
<circle cx="32.93" cy="293.60" r="0.85" fill="#1a8cf0"/>
<circle cx="32.87" cy="294.60" r="0.85" fill="#1a8cf0"/>
<circle cx="32.56" cy="295.61" r="0.85" fill="#1a8cf0"/>
<circle cx="32.79" cy="296.28" r="0.85" fill="#1a8cf0"/>
<circle cx="33.03" cy="297.30" r="0.85" fill="#1a8cf0"/>
<circle cx="32.68" cy="298.05" r="0.85" fill="#1a8cf0"/>
<circle cx="32.80" cy="298.81" r="0.85" fill="#1a8cf0"/>
<circle cx="33.41" cy="279.00" r="0.85" fill="#1a8cf0"/>
<circle cx="33.74" cy="280.18" r="0.85" fill="#1a8cf0"/>
<circle cx="33.76" cy="281.38" r="0.85" fill="#1a8cf0"/>
<circle cx="33.50" cy="282.44" r="0.85" fill="#1a8cf0"/>
<circle cx="33.52" cy="283.33" r="0.85" fill="#1a8cf0"/>
<circle cx="33.35" cy="284.50" r="0.85" fill="#1a8cf0"/>
<circle cx="33.75" cy="285.32" r="0.85" fill="#1a8cf0"/>
<circle cx="33.34" cy="286.17" r="0.85" fill="#1a8cf0"/>
<circle cx="33.63" cy="286.89" r="0.85" fill="#1a8cf0"/>
<circle cx="33.89" cy="287.78" r="0.85" fill="#1a8cf0"/>
<circle cx="33.89" cy="289.01" r="0.85" fill="#1a8cf0"/>
<circle cx="33.35" cy="289.87" r="0.85" fill="#1a8cf0"/>
<circle cx="33.60" cy="290.63" r="0.85" fill="#1a8cf0"/>
<circle cx="33.57" cy="291.76" r="0.85" fill="#1a8cf0"/>
<circle cx="33.55" cy="292.60" r="0.85" fill="#1a8cf0"/>
<circle cx="32.80" cy="300.10" r="0.95" fill="#1a8cf0"/>
<circle cx="33.60" cy="306.20" r="0.95" fill="#1a8cf0"/>
<circle cx="33.60" cy="307.40" r="0.95" fill="#1a8cf0"/>
<circle cx="34.64" cy="285.60" r="0.85" fill="#1a8cf0"/>
<circle cx="34.78" cy="287.32" r="0.85" fill="#1a8cf0"/>
<circle cx="34.20" cy="288.97" r="0.85" fill="#1a8cf0"/>
<circle cx="34.34" cy="290.78" r="0.85" fill="#1a8cf0"/>
<circle cx="34.40" cy="292.34" r="0.85" fill="#1a8cf0"/>
<circle cx="34.26" cy="294.05" r="0.85" fill="#1a8cf0"/>
<circle cx="34.30" cy="295.33" r="0.85" fill="#1a8cf0"/>
<circle cx="34.00" cy="273.80" r="0.95" fill="#1a8cf0"/>
<circle cx="34.20" cy="276.00" r="0.95" fill="#1a8cf0"/>
<circle cx="35.30" cy="271.40" r="0.95" fill="#3f78ea"/>
<circle cx="36.00" cy="275.50" r="0.95" fill="#3f78ea"/>
<circle cx="36.00" cy="281.90" r="0.95" fill="#3f78ea"/>
<circle cx="35.50" cy="278.50" r="0.95" fill="#3f78ea"/>
<circle cx="36.70" cy="256.90" r="0.95" fill="#8c3ccc"/>
<circle cx="37.10" cy="257.30" r="0.95" fill="#8c3ccc"/>
<circle cx="38.50" cy="262.80" r="0.95" fill="#8c3ccc"/>
<circle cx="37.60" cy="266.50" r="0.95" fill="#8c3ccc"/>
<circle cx="37.00" cy="267.80" r="0.95" fill="#8c3ccc"/>
<circle cx="36.40" cy="269.20" r="0.95" fill="#8c3ccc"/>
<circle cx="38.50" cy="269.00" r="0.95" fill="#8c3ccc"/>
<circle cx="38.50" cy="271.50" r="0.95" fill="#8c3ccc"/>
<circle cx="38.50" cy="273.80" r="0.95" fill="#8c3ccc"/>
<circle cx="39.40" cy="272.00" r="0.95" fill="#8c3ccc"/>
<circle cx="35.80" cy="271.50" r="0.95" fill="#8c3ccc"/>
<circle cx="35.30" cy="272.40" r="0.95" fill="#8c3ccc"/>
<circle cx="37.60" cy="288.30" r="0.95" fill="#8c3ccc"/>
<circle cx="38.20" cy="297.30" r="0.95" fill="#8c3ccc"/>
<circle cx="34.90" cy="286.90" r="0.95" fill="#8c3ccc"/>
<circle cx="35.30" cy="294.20" r="0.95" fill="#8c3ccc"/>
<circle cx="37.00" cy="274.50" r="0.95" fill="#8c3ccc"/>
<circle cx="53.75" cy="222.75" r="0.95" fill="#f41464"/>
<circle cx="55.70" cy="232.90" r="0.95" fill="#f41464"/>
<circle cx="65.10" cy="236.70" r="0.95" fill="#f41464"/>
<circle cx="56.00" cy="241.00" r="0.95" fill="#f41464"/>
<circle cx="51.10" cy="244.80" r="0.95" fill="#f41464"/>
<circle cx="47.60" cy="250.20" r="0.95" fill="#f41464"/>
<circle cx="42.20" cy="252.90" r="0.95" fill="#f41464"/>
<circle cx="51.10" cy="255.20" r="0.95" fill="#f41464"/>
<circle cx="41.50" cy="257.00" r="0.95" fill="#f41464"/>
<circle cx="48.30" cy="258.20" r="0.95" fill="#f41464"/>
<circle cx="66.30" cy="253.70" r="0.95" fill="#f41464"/>
<circle cx="47.60" cy="264.30" r="0.95" fill="#f41464"/>
<circle cx="51.10" cy="267.40" r="0.95" fill="#f41464"/>
<circle cx="55.20" cy="268.00" r="0.95" fill="#f41464"/>
<circle cx="43.80" cy="268.10" r="0.95" fill="#f41464"/>
<circle cx="42.20" cy="270.40" r="0.95" fill="#f41464"/>
<circle cx="145.25" cy="236.00" r="0.95" fill="#f41464"/>
<circle cx="79.50" cy="252.25" r="0.95" fill="#f41464"/>
<circle cx="40.80" cy="278.20" r="0.95" fill="#f41464"/>
<circle cx="41.70" cy="270.30" r="0.95" fill="#f41464"/>
<circle cx="44.00" cy="268.30" r="0.95" fill="#f41464"/>
<circle cx="40.40" cy="272.40" r="0.95" fill="#c21ea4"/>
<circle cx="207.10" cy="214.60" r="0.95" fill="#1a8cf0"/>
<circle cx="207.18" cy="236.70" r="0.85" fill="#1a8cf0"/>
<circle cx="207.07" cy="237.54" r="0.85" fill="#1a8cf0"/>
<circle cx="208.60" cy="237.60" r="0.95" fill="#1a8cf0"/>
<circle cx="207.70" cy="241.00" r="0.85" fill="#1a8cf0"/>
<circle cx="207.39" cy="241.75" r="0.85" fill="#1a8cf0"/>
<circle cx="207.56" cy="242.64" r="0.85" fill="#1a8cf0"/>
<circle cx="207.34" cy="243.61" r="0.85" fill="#1a8cf0"/>
<circle cx="207.63" cy="244.35" r="0.85" fill="#1a8cf0"/>
<circle cx="207.67" cy="245.25" r="0.85" fill="#1a8cf0"/>
<circle cx="207.42" cy="245.80" r="0.85" fill="#1a8cf0"/>
<circle cx="207.38" cy="246.38" r="0.85" fill="#1a8cf0"/>
<circle cx="207.53" cy="247.34" r="0.85" fill="#1a8cf0"/>
<circle cx="207.45" cy="248.28" r="0.85" fill="#1a8cf0"/>
<circle cx="207.48" cy="249.20" r="0.85" fill="#1a8cf0"/>
<circle cx="207.61" cy="249.84" r="0.85" fill="#1a8cf0"/>
<circle cx="207.34" cy="250.79" r="0.85" fill="#1a8cf0"/>
<circle cx="207.55" cy="251.58" r="0.85" fill="#1a8cf0"/>
<circle cx="207.45" cy="252.21" r="0.85" fill="#1a8cf0"/>
<circle cx="207.38" cy="252.80" r="0.85" fill="#1a8cf0"/>
<circle cx="207.54" cy="253.43" r="0.85" fill="#1a8cf0"/>
<circle cx="207.38" cy="254.25" r="0.85" fill="#1a8cf0"/>
<circle cx="207.43" cy="254.78" r="0.85" fill="#1a8cf0"/>
<circle cx="207.37" cy="255.61" r="0.85" fill="#1a8cf0"/>
<circle cx="207.38" cy="256.28" r="0.85" fill="#1a8cf0"/>
<circle cx="207.52" cy="257.16" r="0.85" fill="#1a8cf0"/>
<circle cx="207.34" cy="257.72" r="0.85" fill="#1a8cf0"/>
<circle cx="207.52" cy="258.42" r="0.85" fill="#1a8cf0"/>
<circle cx="207.34" cy="259.23" r="0.85" fill="#1a8cf0"/>
<circle cx="207.58" cy="259.83" r="0.85" fill="#1a8cf0"/>
<circle cx="207.41" cy="260.54" r="0.85" fill="#1a8cf0"/>
<circle cx="207.68" cy="261.20" r="0.85" fill="#1a8cf0"/>
<circle cx="207.53" cy="261.87" r="0.85" fill="#1a8cf0"/>
<circle cx="207.47" cy="262.55" r="0.85" fill="#1a8cf0"/>
<circle cx="207.70" cy="263.47" r="0.85" fill="#1a8cf0"/>
<circle cx="207.38" cy="264.16" r="0.85" fill="#1a8cf0"/>
<circle cx="207.38" cy="265.01" r="0.85" fill="#1a8cf0"/>
<circle cx="207.66" cy="265.54" r="0.85" fill="#1a8cf0"/>
<circle cx="207.63" cy="266.25" r="0.85" fill="#1a8cf0"/>
<circle cx="207.65" cy="266.96" r="0.85" fill="#1a8cf0"/>
<circle cx="207.37" cy="267.69" r="0.85" fill="#1a8cf0"/>
<circle cx="207.52" cy="268.22" r="0.85" fill="#1a8cf0"/>
<circle cx="207.66" cy="269.04" r="0.85" fill="#1a8cf0"/>
<circle cx="207.55" cy="269.60" r="0.85" fill="#1a8cf0"/>
<circle cx="207.50" cy="270.29" r="0.85" fill="#1a8cf0"/>
<circle cx="207.41" cy="270.89" r="0.85" fill="#1a8cf0"/>
<circle cx="207.67" cy="271.64" r="0.85" fill="#1a8cf0"/>
<circle cx="207.50" cy="272.22" r="0.85" fill="#1a8cf0"/>
<circle cx="207.69" cy="273.11" r="0.85" fill="#1a8cf0"/>
<circle cx="207.35" cy="273.72" r="0.85" fill="#1a8cf0"/>
<circle cx="207.69" cy="274.67" r="0.85" fill="#1a8cf0"/>
<circle cx="207.32" cy="275.41" r="0.85" fill="#1a8cf0"/>
<circle cx="207.46" cy="276.35" r="0.85" fill="#1a8cf0"/>
<circle cx="209.07" cy="252.60" r="0.85" fill="#1a8cf0"/>
<circle cx="208.80" cy="254.15" r="0.85" fill="#1a8cf0"/>
<circle cx="208.83" cy="255.68" r="0.85" fill="#1a8cf0"/>
<circle cx="209.21" cy="256.90" r="0.85" fill="#1a8cf0"/>
<circle cx="208.81" cy="258.46" r="0.85" fill="#1a8cf0"/>
<circle cx="208.94" cy="259.54" r="0.85" fill="#1a8cf0"/>
<circle cx="208.93" cy="260.85" r="0.85" fill="#1a8cf0"/>
<circle cx="208.85" cy="261.86" r="0.85" fill="#1a8cf0"/>
<circle cx="209.24" cy="263.33" r="0.85" fill="#1a8cf0"/>
<circle cx="209.04" cy="264.28" r="0.85" fill="#1a8cf0"/>
<circle cx="208.72" cy="265.78" r="0.85" fill="#1a8cf0"/>
<circle cx="208.77" cy="267.34" r="0.85" fill="#1a8cf0"/>
<circle cx="209.03" cy="268.72" r="0.85" fill="#1a8cf0"/>
<circle cx="208.30" cy="280.40" r="0.95" fill="#1a8cf0"/>
<circle cx="209.90" cy="283.90" r="0.95" fill="#1a8cf0"/>
<circle cx="211.55" cy="256.52" r="0.95" fill="#6a55dc"/>
<circle cx="212.41" cy="256.55" r="0.95" fill="#6a55dc"/>
<circle cx="212.64" cy="256.68" r="0.95" fill="#6a55dc"/>
<circle cx="211.96" cy="254.14" r="0.95" fill="#6a55dc"/>
<circle cx="212.52" cy="256.94" r="0.95" fill="#6a55dc"/>
<circle cx="211.33" cy="258.58" r="0.95" fill="#6a55dc"/>
<circle cx="213.02" cy="256.75" r="0.95" fill="#6a55dc"/>
<circle cx="212.51" cy="266.19" r="0.95" fill="#6a55dc"/>
<circle cx="212.35" cy="264.08" r="0.95" fill="#6a55dc"/>
<circle cx="213.09" cy="263.86" r="0.95" fill="#6a55dc"/>
<circle cx="213.12" cy="266.41" r="0.95" fill="#6a55dc"/>
<circle cx="212.19" cy="267.18" r="0.95" fill="#6a55dc"/>
<circle cx="212.29" cy="267.77" r="0.95" fill="#6a55dc"/>
<circle cx="216.00" cy="264.00" r="0.95" fill="#8c3ccc"/>
<circle cx="217.80" cy="266.30" r="0.95" fill="#8c3ccc"/>
<circle cx="211.00" cy="258.00" r="0.95" fill="#8c3ccc"/>
<circle cx="210.50" cy="262.00" r="0.95" fill="#8c3ccc"/>
<circle cx="216.00" cy="277.80" r="0.95" fill="#c21ea4"/>
<circle cx="217.20" cy="278.60" r="0.95" fill="#c21ea4"/>
<circle cx="218.20" cy="279.30" r="0.95" fill="#c21ea4"/>
<circle cx="219.80" cy="277.00" r="0.95" fill="#c21ea4"/>
<circle cx="219.80" cy="269.40" r="0.95" fill="#f41464"/>
<circle cx="222.00" cy="272.70" r="0.95" fill="#f41464"/>
<circle cx="230.70" cy="268.60" r="0.95" fill="#f41464"/>
<circle cx="232.00" cy="276.30" r="0.95" fill="#f41464"/>
<circle cx="221.30" cy="277.00" r="0.95" fill="#f41464"/>
<circle cx="227.40" cy="279.30" r="0.95" fill="#f41464"/>
<circle cx="218.20" cy="281.60" r="0.95" fill="#f41464"/>
<circle cx="228.20" cy="282.80" r="0.95" fill="#f41464"/>
<circle cx="221.60" cy="285.00" r="0.95" fill="#f41464"/>
<circle cx="240.30" cy="278.50" r="0.95" fill="#f41464"/>
<circle cx="243.90" cy="285.00" r="0.95" fill="#f41464"/>
<circle cx="222.00" cy="289.70" r="0.95" fill="#f41464"/>
<circle cx="228.20" cy="291.80" r="0.95" fill="#f41464"/>
<circle cx="232.00" cy="289.70" r="0.95" fill="#f41464"/>
<circle cx="220.25" cy="306.75" r="0.95" fill="#f41464"/>
<circle cx="276.50" cy="295.25" r="0.95" fill="#f41464"/>
<circle cx="288.00" cy="295.25" r="0.95" fill="#f41464"/>
<circle cx="319.50" cy="293.50" r="0.95" fill="#f41464"/>
<circle cx="381.16" cy="214.10" r="0.85" fill="#1a8cf0"/>
<circle cx="381.01" cy="215.01" r="0.85" fill="#1a8cf0"/>
<circle cx="381.08" cy="215.91" r="0.85" fill="#1a8cf0"/>
<circle cx="381.03" cy="217.05" r="0.85" fill="#1a8cf0"/>
<circle cx="381.60" cy="230.60" r="0.85" fill="#1a8cf0"/>
<circle cx="381.56" cy="231.63" r="0.85" fill="#1a8cf0"/>
<circle cx="381.60" cy="232.36" r="0.85" fill="#1a8cf0"/>
<circle cx="381.59" cy="235.20" r="0.85" fill="#1a8cf0"/>
<circle cx="381.43" cy="236.32" r="0.85" fill="#1a8cf0"/>
<circle cx="382.06" cy="237.90" r="0.85" fill="#1a8cf0"/>
<circle cx="381.71" cy="238.49" r="0.85" fill="#1a8cf0"/>
<circle cx="381.60" cy="239.41" r="0.85" fill="#1a8cf0"/>
<circle cx="381.66" cy="240.40" r="0.85" fill="#1a8cf0"/>
<circle cx="381.59" cy="241.36" r="0.85" fill="#1a8cf0"/>
<circle cx="382.05" cy="242.16" r="0.85" fill="#1a8cf0"/>
<circle cx="381.66" cy="242.82" r="0.85" fill="#1a8cf0"/>
<circle cx="381.69" cy="243.62" r="0.85" fill="#1a8cf0"/>
<circle cx="381.61" cy="244.20" r="0.85" fill="#1a8cf0"/>
<circle cx="382.06" cy="244.84" r="0.85" fill="#1a8cf0"/>
<circle cx="382.04" cy="245.72" r="0.85" fill="#1a8cf0"/>
<circle cx="381.97" cy="246.36" r="0.85" fill="#1a8cf0"/>
<circle cx="381.82" cy="246.98" r="0.85" fill="#1a8cf0"/>
<circle cx="381.72" cy="247.84" r="0.85" fill="#1a8cf0"/>
<circle cx="381.83" cy="248.82" r="0.85" fill="#1a8cf0"/>
<circle cx="382.03" cy="249.66" r="0.85" fill="#1a8cf0"/>
<circle cx="382.10" cy="250.27" r="0.85" fill="#1a8cf0"/>
<circle cx="381.74" cy="251.13" r="0.85" fill="#1a8cf0"/>
<circle cx="381.66" cy="252.08" r="0.85" fill="#1a8cf0"/>
<circle cx="381.85" cy="253.11" r="0.85" fill="#1a8cf0"/>
<circle cx="381.96" cy="253.84" r="0.85" fill="#1a8cf0"/>
<circle cx="381.61" cy="254.62" r="0.85" fill="#1a8cf0"/>
<circle cx="382.14" cy="258.48" r="0.95" fill="#1a8cf0"/>
<circle cx="382.76" cy="255.95" r="0.95" fill="#1a8cf0"/>
<circle cx="384.95" cy="255.20" r="0.95" fill="#1a8cf0"/>
<circle cx="383.99" cy="251.38" r="0.95" fill="#1a8cf0"/>
<circle cx="382.01" cy="247.47" r="0.95" fill="#1a8cf0"/>
<circle cx="382.45" cy="255.62" r="0.95" fill="#1a8cf0"/>
<circle cx="383.30" cy="254.18" r="0.95" fill="#1a8cf0"/>
<circle cx="384.69" cy="248.85" r="0.95" fill="#1a8cf0"/>
<circle cx="382.68" cy="256.14" r="0.95" fill="#1a8cf0"/>
<circle cx="382.07" cy="247.04" r="0.95" fill="#1a8cf0"/>
<circle cx="383.06" cy="248.49" r="0.95" fill="#1a8cf0"/>
<circle cx="383.07" cy="250.14" r="0.95" fill="#1a8cf0"/>
<circle cx="383.75" cy="255.25" r="0.95" fill="#1a8cf0"/>
<circle cx="382.61" cy="255.74" r="0.95" fill="#1a8cf0"/>
<circle cx="382.90" cy="265.50" r="0.95" fill="#1a8cf0"/>
<circle cx="385.90" cy="259.35" r="0.95" fill="#3f78ea"/>
<circle cx="387.75" cy="260.44" r="0.95" fill="#3f78ea"/>
<circle cx="384.60" cy="258.96" r="0.95" fill="#3f78ea"/>
<circle cx="386.55" cy="266.71" r="0.95" fill="#3f78ea"/>
<circle cx="387.13" cy="262.02" r="0.95" fill="#3f78ea"/>
<circle cx="385.06" cy="258.11" r="0.95" fill="#3f78ea"/>
<circle cx="386.58" cy="263.62" r="0.95" fill="#3f78ea"/>
<circle cx="385.40" cy="264.46" r="0.95" fill="#3f78ea"/>
<circle cx="385.78" cy="267.37" r="0.95" fill="#3f78ea"/>
<circle cx="386.93" cy="260.48" r="0.95" fill="#3f78ea"/>
<circle cx="387.40" cy="262.40" r="0.95" fill="#8c3ccc"/>
<circle cx="389.00" cy="266.30" r="0.95" fill="#8c3ccc"/>
<circle cx="386.70" cy="269.30" r="0.95" fill="#8c3ccc"/>
<circle cx="388.20" cy="272.30" r="0.95" fill="#8c3ccc"/>
<circle cx="390.50" cy="271.60" r="0.95" fill="#8c3ccc"/>
<circle cx="389.70" cy="276.20" r="0.95" fill="#8c3ccc"/>
<circle cx="390.50" cy="278.00" r="0.95" fill="#8c3ccc"/>
<circle cx="392.80" cy="280.00" r="0.95" fill="#8c3ccc"/>
<circle cx="390.50" cy="284.10" r="0.95" fill="#8c3ccc"/>
<circle cx="392.80" cy="264.70" r="0.95" fill="#c21ea4"/>
<circle cx="392.00" cy="269.30" r="0.95" fill="#c21ea4"/>
<circle cx="394.00" cy="262.40" r="0.95" fill="#f41464"/>
<circle cx="395.50" cy="269.80" r="0.95" fill="#f41464"/>
<circle cx="395.50" cy="272.30" r="0.95" fill="#f41464"/>
<circle cx="394.30" cy="275.90" r="0.95" fill="#f41464"/>
<circle cx="397.30" cy="280.00" r="0.95" fill="#f41464"/>
<circle cx="394.30" cy="281.50" r="0.95" fill="#f41464"/>
<circle cx="410.30" cy="271.10" r="0.95" fill="#f41464"/>
<circle cx="413.30" cy="279.20" r="0.95" fill="#f41464"/>
<circle cx="424.00" cy="276.90" r="0.95" fill="#f41464"/>
<circle cx="493.50" cy="253.50" r="0.95" fill="#f41464"/>
<circle cx="396.50" cy="290.50" r="0.95" fill="#f41464"/>
<circle cx="404.00" cy="291.00" r="0.95" fill="#f41464"/>
<circle cx="395.75" cy="297.75" r="0.95" fill="#f41464"/>
<circle cx="401.50" cy="302.25" r="0.95" fill="#f41464"/>
<circle cx="431.50" cy="306.75" r="0.95" fill="#f41464"/>
<circle cx="565.88" cy="214.30" r="0.85" fill="#1a8cf0"/>
<circle cx="565.81" cy="214.95" r="0.85" fill="#1a8cf0"/>
<circle cx="565.75" cy="215.80" r="0.85" fill="#1a8cf0"/>
<circle cx="565.86" cy="216.46" r="0.85" fill="#1a8cf0"/>
<circle cx="565.81" cy="217.10" r="0.85" fill="#1a8cf0"/>
<circle cx="565.60" cy="224.60" r="0.95" fill="#1a8cf0"/>
<circle cx="565.60" cy="227.40" r="0.95" fill="#1a8cf0"/>
<circle cx="565.49" cy="231.00" r="0.85" fill="#1a8cf0"/>
<circle cx="565.76" cy="231.66" r="0.85" fill="#1a8cf0"/>
<circle cx="565.78" cy="232.46" r="0.85" fill="#1a8cf0"/>
<circle cx="565.50" cy="233.41" r="0.85" fill="#1a8cf0"/>
<circle cx="565.58" cy="234.12" r="0.85" fill="#1a8cf0"/>
<circle cx="565.93" cy="234.70" r="0.85" fill="#1a8cf0"/>
<circle cx="565.83" cy="235.64" r="0.85" fill="#1a8cf0"/>
<circle cx="565.91" cy="236.20" r="0.85" fill="#1a8cf0"/>
<circle cx="565.68" cy="237.12" r="0.85" fill="#1a8cf0"/>
<circle cx="565.67" cy="238.03" r="0.85" fill="#1a8cf0"/>
<circle cx="565.46" cy="238.70" r="0.85" fill="#1a8cf0"/>
<circle cx="565.42" cy="239.37" r="0.85" fill="#1a8cf0"/>
<circle cx="565.85" cy="240.09" r="0.85" fill="#1a8cf0"/>
<circle cx="565.91" cy="240.99" r="0.85" fill="#1a8cf0"/>
<circle cx="565.56" cy="241.89" r="0.85" fill="#1a8cf0"/>
<circle cx="565.66" cy="242.72" r="0.85" fill="#1a8cf0"/>
<circle cx="565.71" cy="243.65" r="0.85" fill="#1a8cf0"/>
<circle cx="565.79" cy="244.34" r="0.85" fill="#1a8cf0"/>
<circle cx="565.53" cy="245.37" r="0.85" fill="#1a8cf0"/>
<circle cx="565.41" cy="246.35" r="0.85" fill="#1a8cf0"/>
<circle cx="565.54" cy="247.03" r="0.85" fill="#1a8cf0"/>
<circle cx="565.97" cy="247.95" r="0.85" fill="#1a8cf0"/>
<circle cx="565.60" cy="248.87" r="0.85" fill="#1a8cf0"/>
<circle cx="565.60" cy="249.85" r="0.85" fill="#1a8cf0"/>
<circle cx="565.94" cy="250.52" r="0.85" fill="#1a8cf0"/>
<circle cx="565.82" cy="251.39" r="0.85" fill="#1a8cf0"/>
<circle cx="565.99" cy="252.27" r="0.85" fill="#1a8cf0"/>
<circle cx="565.90" cy="253.05" r="0.85" fill="#1a8cf0"/>
<circle cx="565.91" cy="253.95" r="0.85" fill="#1a8cf0"/>
<circle cx="565.83" cy="254.72" r="0.85" fill="#1a8cf0"/>
<circle cx="565.58" cy="255.55" r="0.85" fill="#1a8cf0"/>
<circle cx="565.77" cy="256.21" r="0.85" fill="#1a8cf0"/>
<circle cx="565.95" cy="256.81" r="0.85" fill="#1a8cf0"/>
<circle cx="565.42" cy="257.44" r="0.85" fill="#1a8cf0"/>
<circle cx="565.96" cy="258.05" r="0.85" fill="#1a8cf0"/>
<circle cx="565.49" cy="258.78" r="0.85" fill="#1a8cf0"/>
<circle cx="565.42" cy="259.35" r="0.85" fill="#1a8cf0"/>
<circle cx="565.78" cy="260.24" r="0.85" fill="#1a8cf0"/>
<circle cx="565.84" cy="261.14" r="0.85" fill="#1a8cf0"/>
<circle cx="565.75" cy="261.73" r="0.85" fill="#1a8cf0"/>
<circle cx="567.09" cy="238.00" r="0.85" fill="#1a8cf0"/>
<circle cx="567.13" cy="239.19" r="0.85" fill="#1a8cf0"/>
<circle cx="567.12" cy="239.93" r="0.85" fill="#1a8cf0"/>
<circle cx="567.17" cy="241.18" r="0.85" fill="#1a8cf0"/>
<circle cx="566.72" cy="241.94" r="0.85" fill="#1a8cf0"/>
<circle cx="566.62" cy="242.71" r="0.85" fill="#1a8cf0"/>
<circle cx="567.09" cy="243.92" r="0.85" fill="#1a8cf0"/>
<circle cx="567.10" cy="245.00" r="0.85" fill="#1a8cf0"/>
<circle cx="566.77" cy="246.08" r="0.85" fill="#1a8cf0"/>
<circle cx="566.66" cy="246.84" r="0.85" fill="#1a8cf0"/>
<circle cx="566.72" cy="247.99" r="0.85" fill="#1a8cf0"/>
<circle cx="566.85" cy="248.89" r="0.85" fill="#1a8cf0"/>
<circle cx="566.75" cy="249.60" r="0.85" fill="#1a8cf0"/>
<circle cx="567.03" cy="250.47" r="0.85" fill="#1a8cf0"/>
<circle cx="566.79" cy="251.39" r="0.85" fill="#1a8cf0"/>
<circle cx="566.90" cy="252.67" r="0.85" fill="#1a8cf0"/>
<circle cx="566.97" cy="253.88" r="0.85" fill="#1a8cf0"/>
<circle cx="566.85" cy="254.60" r="0.85" fill="#1a8cf0"/>
<circle cx="567.06" cy="255.56" r="0.85" fill="#1a8cf0"/>
<circle cx="567.02" cy="256.47" r="0.85" fill="#1a8cf0"/>
<circle cx="566.73" cy="257.49" r="0.85" fill="#1a8cf0"/>
<circle cx="566.65" cy="258.71" r="0.85" fill="#1a8cf0"/>
<circle cx="566.70" cy="259.90" r="0.85" fill="#1a8cf0"/>
<circle cx="566.72" cy="260.60" r="0.85" fill="#1a8cf0"/>
<circle cx="567.19" cy="261.76" r="0.85" fill="#1a8cf0"/>
<circle cx="566.89" cy="262.46" r="0.85" fill="#1a8cf0"/>
<circle cx="567.08" cy="263.45" r="0.85" fill="#1a8cf0"/>
<circle cx="567.28" cy="255.73" r="0.95" fill="#1a8cf0"/>
<circle cx="568.49" cy="254.30" r="0.95" fill="#1a8cf0"/>
<circle cx="568.90" cy="254.68" r="0.95" fill="#1a8cf0"/>
<circle cx="566.27" cy="261.54" r="0.95" fill="#1a8cf0"/>
<circle cx="567.29" cy="251.81" r="0.95" fill="#1a8cf0"/>
<circle cx="567.79" cy="251.33" r="0.95" fill="#1a8cf0"/>
<circle cx="568.34" cy="261.50" r="0.95" fill="#1a8cf0"/>
<circle cx="568.33" cy="260.36" r="0.95" fill="#1a8cf0"/>
<circle cx="566.78" cy="256.62" r="0.95" fill="#1a8cf0"/>
<circle cx="566.92" cy="264.69" r="0.95" fill="#1a8cf0"/>
<circle cx="565.81" cy="264.66" r="0.95" fill="#1a8cf0"/>
<circle cx="565.59" cy="253.40" r="0.95" fill="#1a8cf0"/>
<circle cx="566.45" cy="264.87" r="0.95" fill="#1a8cf0"/>
<circle cx="567.30" cy="256.26" r="0.95" fill="#1a8cf0"/>
<circle cx="566.40" cy="272.90" r="0.95" fill="#1a8cf0"/>
<circle cx="566.40" cy="299.00" r="0.95" fill="#1a8cf0"/>
<circle cx="566.40" cy="302.10" r="0.95" fill="#1a8cf0"/>
<circle cx="566.40" cy="304.50" r="0.95" fill="#1a8cf0"/>
<circle cx="570.59" cy="256.67" r="0.95" fill="#6a55dc"/>
<circle cx="569.11" cy="262.63" r="0.95" fill="#6a55dc"/>
<circle cx="570.14" cy="267.06" r="0.95" fill="#6a55dc"/>
<circle cx="569.76" cy="258.97" r="0.95" fill="#6a55dc"/>
<circle cx="568.64" cy="255.11" r="0.95" fill="#6a55dc"/>
<circle cx="570.45" cy="265.24" r="0.95" fill="#6a55dc"/>
<circle cx="570.10" cy="255.39" r="0.95" fill="#6a55dc"/>
<circle cx="569.04" cy="267.47" r="0.95" fill="#6a55dc"/>
<circle cx="569.53" cy="254.52" r="0.95" fill="#6a55dc"/>
<circle cx="569.12" cy="269.70" r="0.95" fill="#6a55dc"/>
<circle cx="568.33" cy="255.83" r="0.95" fill="#6a55dc"/>
<circle cx="568.56" cy="266.06" r="0.95" fill="#6a55dc"/>
<circle cx="569.90" cy="254.20" r="0.95" fill="#8c3ccc"/>
<circle cx="570.00" cy="262.80" r="0.95" fill="#8c3ccc"/>
<circle cx="571.00" cy="268.30" r="0.95" fill="#8c3ccc"/>
<circle cx="571.90" cy="274.70" r="0.95" fill="#8c3ccc"/>
<circle cx="572.80" cy="275.60" r="0.95" fill="#8c3ccc"/>
<circle cx="573.70" cy="276.00" r="0.95" fill="#8c3ccc"/>
<circle cx="571.90" cy="283.80" r="0.95" fill="#8c3ccc"/>
<circle cx="574.30" cy="303.60" r="0.95" fill="#8c3ccc"/>
<circle cx="576.10" cy="274.10" r="0.95" fill="#c21ea4"/>
<circle cx="575.50" cy="283.80" r="0.95" fill="#c21ea4"/>
<circle cx="576.50" cy="282.20" r="0.95" fill="#c21ea4"/>
<circle cx="577.60" cy="285.60" r="0.95" fill="#c21ea4"/>
<circle cx="575.20" cy="285.00" r="0.95" fill="#c21ea4"/>
<circle cx="574.60" cy="281.50" r="0.95" fill="#c21ea4"/>
<circle cx="570.64" cy="262.13" r="0.95" fill="#6a55dc"/>
<circle cx="568.16" cy="262.81" r="0.95" fill="#6a55dc"/>
<circle cx="568.78" cy="264.81" r="0.95" fill="#6a55dc"/>
<circle cx="568.18" cy="263.39" r="0.95" fill="#6a55dc"/>
<circle cx="568.28" cy="268.12" r="0.95" fill="#6a55dc"/>
<circle cx="570.22" cy="261.74" r="0.95" fill="#6a55dc"/>
<circle cx="581.00" cy="265.00" r="0.95" fill="#f41464"/>
<circle cx="579.70" cy="278.90" r="0.95" fill="#f41464"/>
<circle cx="581.60" cy="277.40" r="0.95" fill="#f41464"/>
<circle cx="582.90" cy="278.90" r="0.95" fill="#f41464"/>
<circle cx="577.40" cy="282.50" r="0.95" fill="#f41464"/>
<circle cx="576.50" cy="284.70" r="0.95" fill="#f41464"/>
<circle cx="580.10" cy="288.00" r="0.95" fill="#f41464"/>
<circle cx="590.20" cy="286.60" r="0.95" fill="#f41464"/>
<circle cx="580.10" cy="293.00" r="0.95" fill="#f41464"/>
<circle cx="594.40" cy="293.50" r="0.95" fill="#f41464"/>
<circle cx="578.30" cy="299.00" r="0.95" fill="#f41464"/>
<circle cx="592.00" cy="306.10" r="0.95" fill="#f41464"/>
<circle cx="640.50" cy="284.00" r="0.95" fill="#f41464"/>
<circle cx="646.75" cy="305.50" r="0.95" fill="#f41464"/>
<circle cx="678.00" cy="306.75" r="0.95" fill="#f41464"/>
<polyline points="35.35,93.83 35.94,92.87 36.52,91.94 37.11,91.05 37.69,90.18 38.28,89.33 38.86,88.51 39.45,87.72 40.03,86.94 40.62,86.19 41.20,85.46 41.79,84.74 42.37,84.05 42.96,83.37 43.54,82.70 44.13,82.05 44.71,81.42 45.30,80.80 45.88,80.19 46.47,79.60 47.05,79.01 47.64,78.44 48.22,77.89 48.81,77.34 49.39,76.80 49.98,76.27 50.56,75.75 51.15,75.25 51.73,74.75 52.32,74.26 52.90,73.77 53.49,73.30 54.07,72.83 54.66,72.38 55.24,71.92 55.83,71.48 56.41,71.04 57.00,70.61 57.58,70.19 58.17,69.77 58.75,69.36 59.34,68.95 59.92,68.55 60.51,68.16 61.09,67.77 61.68,67.38 62.26,67.01 62.85,66.63 63.43,66.26 64.02,65.90 64.61,65.54 65.19,65.19 65.78,64.84 66.36,64.49 66.95,64.15 67.53,63.81 68.12,63.48 68.70,63.15 69.29,62.82 69.87,62.50 70.46,62.18 71.04,61.87 71.63,61.55 72.21,61.25 72.80,60.94 73.38,60.64 73.97,60.34 74.55,60.05 75.14,59.75 75.72,59.46 76.31,59.18 76.89,58.90 77.48,58.61 78.06,58.34 78.65,58.06 79.23,57.79 79.82,57.52 80.40,57.25 80.99,56.99 81.57,56.73 82.16,56.47 82.74,56.21 83.33,55.95 83.91,55.70 84.50,55.45 85.08,55.20 85.67,54.96 86.25,54.71 86.84,54.47 87.42,54.23 88.01,53.99 88.59,53.76 89.18,53.52 89.76,53.29 90.35,53.06 90.93,52.83 91.52,52.61 92.10,52.38 92.69,52.16 93.27,51.94 93.86,51.72 94.45,51.50 95.03,51.28 95.62,51.07 96.20,50.86 96.79,50.65 97.37,50.44 97.96,50.23 98.54,50.02 99.13,49.82 99.71,49.61 100.30,49.41 100.88,49.21 101.47,49.01 102.05,48.81 102.64,48.62 103.22,48.42 103.81,48.23 104.39,48.04 104.98,47.85 105.56,47.66 106.15,47.47 106.73,47.28 107.32,47.09 107.90,46.91 108.49,46.73 109.07,46.54 109.66,46.36 110.24,46.18 110.83,46.00 111.41,45.83 112.00,45.65 112.58,45.47 113.17,45.30 113.75,45.13 114.34,44.95 114.92,44.78 115.51,44.61 116.09,44.44 116.68,44.27 117.26,44.11 117.85,43.94 118.43,43.78 119.02,43.61 119.60,43.45 120.19,43.29 120.77,43.12 121.36,42.96 121.94,42.80 122.53,42.64 123.12,42.49 123.70,42.33 124.29,42.17 124.87,42.02 125.46,41.86 126.04,41.71 126.63,41.56 127.21,41.41 127.80,41.25 128.38,41.10 128.97,40.96 129.55,40.81 130.14,40.66 130.72,40.51 131.31,40.37 131.89,40.22 132.48,40.07 133.06,39.93 133.65,39.79 134.23,39.64 134.82,39.50 135.40,39.36 135.99,39.22 136.57,39.08 137.16,38.94 137.74,38.80 138.33,38.67 138.91,38.53 139.50,38.39 140.08,38.26 140.67,38.12 141.25,37.99 141.84,37.85 142.42,37.72 143.01,37.59 143.59,37.46 144.18,37.32 144.76,37.19 145.35,37.06 145.93,36.93 146.52,36.80 147.10,36.68 147.69,36.55 148.27,36.42 148.86,36.29 149.44,36.17 150.03,36.04 150.61,35.92 151.20,35.79 151.79,35.67 152.37,35.55" fill="none" stroke="#f01818" stroke-width="1.1" stroke-linejoin="round"/>
<polyline points="209.25,77.05 209.84,78.06 210.43,78.99 211.02,79.86 211.60,80.66 212.19,81.40 212.78,82.09 213.37,82.73 213.96,83.32 214.55,83.87 215.14,84.38 215.72,84.85 216.31,85.29 216.90,85.69 217.49,86.07 218.08,86.42 218.67,86.74 219.26,87.04 219.84,87.31 220.43,87.57 221.02,87.81 221.61,88.03 222.20,88.23 222.79,88.42 223.38,88.60 223.96,88.76 224.55,88.91 225.14,89.05 225.73,89.18 226.32,89.30 226.91,89.41 227.50,89.51 228.08,89.61 228.67,89.70 229.26,89.78 229.85,89.86 230.44,89.93 231.03,89.99 231.61,90.05 232.20,90.11 232.79,90.16 233.38,90.21 233.97,90.25 234.56,90.30 235.15,90.33 235.73,90.37 236.32,90.40 236.91,90.43 237.50,90.46 238.09,90.49 238.68,90.51 239.27,90.53 239.85,90.56 240.44,90.57 241.03,90.59 241.62,90.61 242.21,90.62 242.80,90.64 243.39,90.65 243.97,90.66 244.56,90.68 245.15,90.69 245.74,90.70 246.33,90.71 246.92,90.71 247.51,90.72 248.09,90.73 248.68,90.74 249.27,90.74 249.86,90.75 250.45,90.75 251.04,90.76 251.63,90.76 252.21,90.77 252.80,90.77 253.39,90.77 253.98,90.78 254.57,90.78 255.16,90.78 255.75,90.79 256.33,90.79 256.92,90.79 257.51,90.79 258.10,90.79 258.69,90.80 259.28,90.80 259.87,90.80 260.45,90.80 261.04,90.80 261.63,90.80 262.22,90.81 262.81,90.81 263.40,90.81 263.99,90.81 264.57,90.81 265.16,90.81 265.75,90.81 266.34,90.81 266.93,90.81 267.52,90.81 268.11,90.81 268.69,90.81 269.28,90.81 269.87,90.81 270.46,90.81 271.05,90.82 271.64,90.82 272.22,90.82 272.81,90.82 273.40,90.82 273.99,90.82 274.58,90.82 275.17,90.82 275.76,90.82 276.34,90.82 276.93,90.82 277.52,90.82 278.11,90.82 278.70,90.82 279.29,90.82 279.88,90.82 280.46,90.82 281.05,90.82 281.64,90.82 282.23,90.82 282.82,90.82 283.41,90.82 284.00,90.82 284.58,90.82 285.17,90.82 285.76,90.82 286.35,90.82 286.94,90.82 287.53,90.82 288.12,90.82 288.70,90.82 289.29,90.82 289.88,90.82 290.47,90.82 291.06,90.82 291.65,90.82 292.24,90.82 292.82,90.82 293.41,90.82 294.00,90.82 294.59,90.82 295.18,90.82 295.77,90.82 296.36,90.82 296.94,90.82 297.53,90.82 298.12,90.82 298.71,90.82 299.30,90.82 299.89,90.82 300.48,90.82 301.06,90.82 301.65,90.82 302.24,90.82 302.83,90.82 303.42,90.82 304.01,90.82 304.60,90.82 305.18,90.82 305.77,90.82 306.36,90.82 306.95,90.82 307.54,90.82 308.13,90.82 308.71,90.82 309.30,90.82 309.89,90.82 310.48,90.82 311.07,90.82 311.66,90.82 312.25,90.82 312.83,90.82 313.42,90.82 314.01,90.82 314.60,90.82 315.19,90.82 315.78,90.82 316.37,90.82 316.95,90.82 317.54,90.82 318.13,90.82 318.72,90.82 319.31,90.82 319.90,90.82 320.49,90.82 321.07,90.82 321.66,90.82 322.25,90.82 322.84,90.82 323.43,90.82 324.02,90.82 324.61,90.82 325.19,90.82 325.78,90.82 326.37,90.82 326.96,90.82" fill="none" stroke="#f01818" stroke-width="1.1" stroke-linejoin="round"/>
<polyline points="383.75,58.50 384.34,59.57 384.93,60.62 385.51,61.63 386.10,62.61 386.69,63.57 387.28,64.49 387.87,65.39 388.45,66.26 389.04,67.11 389.63,67.94 390.22,68.73 390.81,69.51 391.39,70.26 391.98,71.00 392.57,71.71 393.16,72.39 393.74,73.06 394.33,73.71 394.92,74.35 395.51,74.96 396.10,75.55 396.68,76.13 397.27,76.69 397.86,77.24 398.45,77.76 399.04,78.28 399.62,78.78 400.21,79.26 400.80,79.73 401.39,80.19 401.98,80.63 402.56,81.06 403.15,81.48 403.74,81.88 404.33,82.28 404.92,82.66 405.50,83.03 406.09,83.39 406.68,83.74 407.27,84.08 407.86,84.41 408.44,84.73 409.03,85.04 409.62,85.34 410.21,85.63 410.80,85.92 411.38,86.19 411.97,86.46 412.56,86.72 413.15,86.97 413.73,87.22 414.32,87.46 414.91,87.69 415.50,87.91 416.09,88.13 416.67,88.34 417.26,88.55 417.85,88.75 418.44,88.94 419.03,89.13 419.61,89.31 420.20,89.49 420.79,89.66 421.38,89.83 421.97,89.99 422.55,90.15 423.14,90.30 423.73,90.45 424.32,90.60 424.91,90.74 425.49,90.87 426.08,91.00 426.67,91.13 427.26,91.26 427.85,91.38 428.43,91.49 429.02,91.61 429.61,91.72 430.20,91.83 430.79,91.93 431.37,92.03 431.96,92.13 432.55,92.23 433.14,92.32 433.72,92.41 434.31,92.50 434.90,92.58 435.49,92.66 436.08,92.74 436.66,92.82 437.25,92.90 437.84,92.97 438.43,93.04 439.02,93.11 439.60,93.18 440.19,93.24 440.78,93.30 441.37,93.36 441.96,93.42 442.54,93.48 443.13,93.54 443.72,93.59 444.31,93.65 444.90,93.70 445.48,93.75 446.07,93.79 446.66,93.84 447.25,93.89 447.84,93.93 448.42,93.97 449.01,94.02 449.60,94.06 450.19,94.10 450.78,94.13 451.36,94.17 451.95,94.21 452.54,94.24 453.13,94.28 453.71,94.31 454.30,94.34 454.89,94.37 455.48,94.40 456.07,94.43 456.65,94.46 457.24,94.49 457.83,94.52 458.42,94.54 459.01,94.57 459.59,94.59 460.18,94.61 460.77,94.64 461.36,94.66 461.95,94.68 462.53,94.70 463.12,94.72 463.71,94.74 464.30,94.76 464.89,94.78 465.47,94.80 466.06,94.82 466.65,94.84 467.24,94.85 467.83,94.87 468.41,94.88 469.00,94.90 469.59,94.91 470.18,94.93 470.77,94.94 471.35,94.96 471.94,94.97 472.53,94.98 473.12,94.99 473.70,95.01 474.29,95.02 474.88,95.03 475.47,95.04 476.06,95.05 476.64,95.06 477.23,95.07 477.82,95.08 478.41,95.09 479.00,95.10 479.58,95.11 480.17,95.12 480.76,95.13 481.35,95.14 481.94,95.14 482.52,95.15 483.11,95.16 483.70,95.17 484.29,95.17 484.88,95.18 485.46,95.19 486.05,95.19 486.64,95.20 487.23,95.21 487.82,95.21 488.40,95.22 488.99,95.22 489.58,95.23 490.17,95.23 490.76,95.24 491.34,95.24 491.93,95.25 492.52,95.25 493.11,95.26 493.69,95.26 494.28,95.27 494.87,95.27 495.46,95.27 496.05,95.28 496.63,95.28 497.22,95.29 497.81,95.29 498.40,95.29 498.99,95.30 499.57,95.30 500.16,95.30 500.75,95.31 501.34,95.31" fill="none" stroke="#f01818" stroke-width="1.1" stroke-linejoin="round"/>
<polyline points="563.50,73.62 564.09,74.99 564.68,76.33 565.27,77.62 565.85,78.87 566.44,80.08 567.03,81.25 567.62,82.38 568.21,83.47 568.80,84.53 569.39,85.56 569.97,86.55 570.56,87.51 571.15,88.44 571.74,89.34 572.33,90.21 572.92,91.06 573.51,91.87 574.09,92.66 574.68,93.43 575.27,94.17 575.86,94.88 576.45,95.57 577.04,96.24 577.63,96.89 578.21,97.52 578.80,98.13 579.39,98.71 579.98,99.28 580.57,99.83 581.16,100.37 581.75,100.88 582.33,101.38 582.92,101.86 583.51,102.33 584.10,102.78 584.69,103.22 585.28,103.64 585.86,104.05 586.45,104.45 587.04,104.83 587.63,105.20 588.22,105.56 588.81,105.91 589.40,106.25 589.98,106.57 590.57,106.89 591.16,107.19 591.75,107.49 592.34,107.78 592.93,108.05 593.52,108.32 594.10,108.58 594.69,108.83 595.28,109.07 595.87,109.31 596.46,109.53 597.05,109.75 597.64,109.97 598.22,110.17 598.81,110.37 599.40,110.56 599.99,110.75 600.58,110.93 601.17,111.11 601.76,111.28 602.34,111.44 602.93,111.60 603.52,111.75 604.11,111.90 604.70,112.04 605.29,112.18 605.88,112.32 606.46,112.45 607.05,112.57 607.64,112.69 608.23,112.81 608.82,112.93 609.41,113.04 610.00,113.14 610.58,113.25 611.17,113.35 611.76,113.44 612.35,113.54 612.94,113.63 613.53,113.72 614.12,113.80 614.70,113.88 615.29,113.96 615.88,114.04 616.47,114.11 617.06,114.19 617.65,114.26 618.24,114.32 618.82,114.39 619.41,114.45 620.00,114.51 620.59,114.57 621.18,114.63 621.77,114.69 622.36,114.74 622.94,114.79 623.53,114.84 624.12,114.89 624.71,114.94 625.30,114.98 625.89,115.03 626.47,115.07 627.06,115.11 627.65,115.15 628.24,115.19 628.83,115.23 629.42,115.26 630.01,115.30 630.59,115.33 631.18,115.36 631.77,115.40 632.36,115.43 632.95,115.46 633.54,115.49 634.13,115.51 634.71,115.54 635.30,115.57 635.89,115.59 636.48,115.62 637.07,115.64 637.66,115.66 638.25,115.69 638.83,115.71 639.42,115.73 640.01,115.75 640.60,115.77 641.19,115.79 641.78,115.80 642.37,115.82 642.95,115.84 643.54,115.85 644.13,115.87 644.72,115.89 645.31,115.90 645.90,115.92 646.49,115.93 647.07,115.94 647.66,115.96 648.25,115.97 648.84,115.98 649.43,115.99 650.02,116.00 650.61,116.02 651.19,116.03 651.78,116.04 652.37,116.05 652.96,116.06 653.55,116.07 654.14,116.08 654.73,116.08 655.31,116.09 655.90,116.10 656.49,116.11 657.08,116.12 657.67,116.12 658.26,116.13 658.85,116.14 659.43,116.15 660.02,116.15 660.61,116.16 661.20,116.16 661.79,116.17 662.38,116.18 662.96,116.18 663.55,116.19 664.14,116.19 664.73,116.20 665.32,116.20 665.91,116.21 666.50,116.21 667.08,116.22 667.67,116.22 668.26,116.23 668.85,116.23 669.44,116.23 670.03,116.24 670.62,116.24 671.20,116.24 671.79,116.25 672.38,116.25 672.97,116.25 673.56,116.26 674.15,116.26 674.74,116.26 675.32,116.27 675.91,116.27 676.50,116.27 677.09,116.27 677.68,116.28 678.27,116.28 678.86,116.28 679.44,116.28 680.03,116.29 680.62,116.29 681.21,116.29" fill="none" stroke="#f01818" stroke-width="1.1" stroke-linejoin="round"/>
<polyline points="33.20,283.53 33.73,281.48 34.25,279.60 34.78,277.86 35.30,276.24 35.83,274.73 36.35,273.31 36.88,271.97 37.40,270.71 37.93,269.51 38.45,268.37 38.98,267.29 39.50,266.25 40.03,265.26 40.55,264.30 41.08,263.39 41.60,262.51 42.13,261.66 42.65,260.85 43.18,260.06 43.71,259.29 44.23,258.56 44.76,257.84 45.28,257.14 45.81,256.47 46.33,255.82 46.86,255.18 47.38,254.56 47.91,253.95 48.43,253.37 48.96,252.79 49.48,252.23 50.01,251.69 50.53,251.15 51.06,250.63 51.58,250.12 52.11,249.62 52.63,249.13 53.16,248.65 53.68,248.18 54.21,247.72 54.74,247.27 55.26,246.83 55.79,246.40 56.31,245.97 56.84,245.55 57.36,245.14 57.89,244.74 58.41,244.34 58.94,243.95 59.46,243.57 59.99,243.19 60.51,242.82 61.04,242.45 61.56,242.09 62.09,241.74 62.61,241.39 63.14,241.05 63.66,240.71 64.19,240.38 64.72,240.05 65.24,239.72 65.77,239.40 66.29,239.09 66.82,238.78 67.34,238.47 67.87,238.16 68.39,237.87 68.92,237.57 69.44,237.28 69.97,236.99 70.49,236.71 71.02,236.43 71.54,236.15 72.07,235.87 72.59,235.60 73.12,235.33 73.64,235.07 74.17,234.81 74.69,234.55 75.22,234.29 75.75,234.04 76.27,233.79 76.80,233.54 77.32,233.30 77.85,233.05 78.37,232.81 78.90,232.58 79.42,232.34 79.95,232.11 80.47,231.88 81.00,231.65 81.52,231.42 82.05,231.20 82.57,230.98 83.10,230.76 83.62,230.54 84.15,230.32 84.67,230.11 85.20,229.90 85.73,229.69 86.25,229.48 86.78,229.28 87.30,229.07 87.83,228.87 88.35,228.67 88.88,228.47 89.40,228.27 89.93,228.08 90.45,227.88 90.98,227.69 91.50,227.50 92.03,227.31 92.55,227.12 93.08,226.94 93.60,226.75 94.13,226.57 94.65,226.39 95.18,226.21 95.70,226.03 96.23,225.85 96.76,225.68 97.28,225.50 97.81,225.33 98.33,225.16 98.86,224.98 99.38,224.81 99.91,224.65 100.43,224.48 100.96,224.31 101.48,224.15 102.01,223.98 102.53,223.82 103.06,223.66 103.58,223.50 104.11,223.34 104.63,223.18 105.16,223.03 105.68,222.87 106.21,222.72 106.73,222.56 107.26,222.41 107.79,222.26 108.31,222.11 108.84,221.96 109.36,221.81 109.89,221.66 110.41,221.51 110.94,221.37 111.46,221.22 111.99,221.08 112.51,220.93 113.04,220.79 113.56,220.65 114.09,220.51 114.61,220.37 115.14,220.23 115.66,220.09 116.19,219.95 116.71,219.82 117.24,219.68 117.77,219.55 118.29,219.41 118.82,219.28 119.34,219.15 119.87,219.01 120.39,218.88 120.92,218.75 121.44,218.62 121.97,218.49 122.49,218.37 123.02,218.24 123.54,218.11 124.07,217.99 124.59,217.86 125.12,217.73 125.64,217.61 126.17,217.49 126.69,217.36 127.22,217.24 127.75,217.12 128.27,217.00 128.80,216.88 129.32,216.76 129.85,216.64 130.37,216.52 130.90,216.40 131.42,216.29 131.95,216.17 132.47,216.05 133.00,215.94 133.52,215.82 134.05,215.71 134.57,215.60 135.10,215.48 135.62,215.37 136.15,215.26 136.67,215.15 137.20,215.04 137.72,214.93 138.25,214.82" fill="none" stroke="#f01818" stroke-width="1.1" stroke-linejoin="round"/>
<polyline points="207.40,253.57 207.99,255.49 208.58,257.31 209.17,259.03 209.76,260.65 210.34,262.18 210.93,263.62 211.52,264.98 212.11,266.27 212.70,267.48 213.29,268.63 213.88,269.71 214.47,270.73 215.06,271.70 215.64,272.61 216.23,273.47 216.82,274.28 217.41,275.04 218.00,275.77 218.59,276.45 219.18,277.09 219.77,277.70 220.36,278.28 220.94,278.82 221.53,279.33 222.12,279.81 222.71,280.27 223.30,280.70 223.89,281.11 224.48,281.49 225.07,281.85 225.65,282.19 226.24,282.52 226.83,282.82 227.42,283.11 228.01,283.38 228.60,283.64 229.19,283.88 229.78,284.11 230.37,284.32 230.95,284.53 231.54,284.72 232.13,284.90 232.72,285.07 233.31,285.23 233.90,285.39 234.49,285.53 235.08,285.67 235.67,285.79 236.25,285.92 236.84,286.03 237.43,286.14 238.02,286.24 238.61,286.34 239.20,286.43 239.79,286.51 240.38,286.59 240.97,286.67 241.55,286.74 242.14,286.81 242.73,286.87 243.32,286.94 243.91,286.99 244.50,287.05 245.09,287.10 245.68,287.15 246.27,287.19 246.85,287.23 247.44,287.28 248.03,287.31 248.62,287.35 249.21,287.38 249.80,287.42 250.39,287.45 250.98,287.48 251.56,287.50 252.15,287.53 252.74,287.55 253.33,287.58 253.92,287.60 254.51,287.62 255.10,287.64 255.69,287.65 256.28,287.67 256.86,287.69 257.45,287.70 258.04,287.72 258.63,287.73 259.22,287.74 259.81,287.76 260.40,287.77 260.99,287.78 261.58,287.79 262.16,287.80 262.75,287.81 263.34,287.82 263.93,287.82 264.52,287.83 265.11,287.84 265.70,287.85 266.29,287.85 266.88,287.86 267.46,287.86 268.05,287.87 268.64,287.87 269.23,287.88 269.82,287.88 270.41,287.89 271.00,287.89 271.59,287.90 272.18,287.90 272.76,287.90 273.35,287.91 273.94,287.91 274.53,287.91 275.12,287.91 275.71,287.92 276.30,287.92 276.89,287.92 277.47,287.92 278.06,287.93 278.65,287.93 279.24,287.93 279.83,287.93 280.42,287.93 281.01,287.93 281.60,287.94 282.19,287.94 282.77,287.94 283.36,287.94 283.95,287.94 284.54,287.94 285.13,287.94 285.72,287.94 286.31,287.94 286.90,287.95 287.49,287.95 288.07,287.95 288.66,287.95 289.25,287.95 289.84,287.95 290.43,287.95 291.02,287.95 291.61,287.95 292.20,287.95 292.79,287.95 293.37,287.95 293.96,287.95 294.55,287.95 295.14,287.95 295.73,287.95 296.32,287.95 296.91,287.95 297.50,287.95 298.09,287.96 298.67,287.96 299.26,287.96 299.85,287.96 300.44,287.96 301.03,287.96 301.62,287.96 302.21,287.96 302.80,287.96 303.38,287.96 303.97,287.96 304.56,287.96 305.15,287.96 305.74,287.96 306.33,287.96 306.92,287.96 307.51,287.96 308.10,287.96 308.68,287.96 309.27,287.96 309.86,287.96 310.45,287.96 311.04,287.96 311.63,287.96 312.22,287.96 312.81,287.96 313.40,287.96 313.98,287.96 314.57,287.96 315.16,287.96 315.75,287.96 316.34,287.96 316.93,287.96 317.52,287.96 318.11,287.96 318.70,287.96 319.28,287.96 319.87,287.96 320.46,287.96 321.05,287.96 321.64,287.96 322.23,287.96 322.82,287.96 323.41,287.96 324.00,287.96 324.58,287.96 325.17,287.96" fill="none" stroke="#f01818" stroke-width="1.1" stroke-linejoin="round"/>
<polyline points="381.50,241.85 381.98,244.81 382.46,247.56 382.94,250.11 383.43,252.47 383.91,254.66 384.39,256.70 384.87,258.58 385.35,260.33 385.83,261.96 386.31,263.47 386.79,264.86 387.27,266.16 387.76,267.36 388.24,268.48 388.72,269.52 389.20,270.48 389.68,271.37 390.16,272.20 390.64,272.96 391.12,273.68 391.61,274.34 392.09,274.95 392.57,275.52 393.05,276.04 393.53,276.53 394.01,276.99 394.49,277.41 394.98,277.80 395.46,278.16 395.94,278.50 396.42,278.81 396.90,279.10 397.38,279.37 397.86,279.62 398.34,279.85 398.82,280.06 399.31,280.26 399.79,280.45 400.27,280.62 400.75,280.78 401.23,280.92 401.71,281.06 402.19,281.19 402.68,281.31 403.16,281.41 403.64,281.52 404.12,281.61 404.60,281.70 405.08,281.78 405.56,281.85 406.04,281.92 406.52,281.99 407.01,282.05 407.49,282.10 407.97,282.15 408.45,282.20 408.93,282.25 409.41,282.29 409.89,282.33 410.38,282.36 410.86,282.39 411.34,282.42 411.82,282.45 412.30,282.48 412.78,282.50 413.26,282.53 413.74,282.55 414.23,282.57 414.71,282.58 415.19,282.60 415.67,282.62 416.15,282.63 416.63,282.64 417.11,282.66 417.59,282.67 418.07,282.68 418.56,282.69 419.04,282.70 419.52,282.71 420.00,282.71 420.48,282.72 420.96,282.73 421.44,282.73 421.93,282.74 422.41,282.75 422.89,282.75 423.37,282.76 423.85,282.76 424.33,282.76 424.81,282.77 425.29,282.77 425.77,282.77 426.26,282.78 426.74,282.78 427.22,282.78 427.70,282.79 428.18,282.79 428.66,282.79 429.14,282.79 429.62,282.79 430.11,282.79 430.59,282.80 431.07,282.80 431.55,282.80 432.03,282.80 432.51,282.80 432.99,282.80 433.48,282.80 433.96,282.80 434.44,282.81 434.92,282.81 435.40,282.81 435.88,282.81 436.36,282.81 436.84,282.81 437.32,282.81 437.81,282.81 438.29,282.81 438.77,282.81 439.25,282.81 439.73,282.81 440.21,282.81 440.69,282.81 441.18,282.81 441.66,282.81 442.14,282.81 442.62,282.81 443.10,282.81 443.58,282.81 444.06,282.81 444.54,282.81 445.02,282.81 445.51,282.81 445.99,282.81 446.47,282.81 446.95,282.81 447.43,282.81 447.91,282.81 448.39,282.81 448.88,282.81 449.36,282.81 449.84,282.82 450.32,282.82 450.80,282.82 451.28,282.82 451.76,282.82 452.24,282.82 452.73,282.82 453.21,282.82 453.69,282.82 454.17,282.82 454.65,282.82 455.13,282.82 455.61,282.82 456.09,282.82 456.57,282.82 457.06,282.82 457.54,282.82 458.02,282.82 458.50,282.82 458.98,282.82 459.46,282.82 459.94,282.82 460.43,282.82 460.91,282.82 461.39,282.82 461.87,282.82 462.35,282.82 462.83,282.82 463.31,282.82 463.79,282.82 464.27,282.82 464.76,282.82 465.24,282.82 465.72,282.82 466.20,282.82 466.68,282.82 467.16,282.82 467.64,282.82 468.12,282.82 468.61,282.82 469.09,282.82 469.57,282.82 470.05,282.82 470.53,282.82 471.01,282.82 471.49,282.82 471.98,282.82 472.46,282.82 472.94,282.82 473.42,282.82 473.90,282.82 474.38,282.82 474.86,282.82 475.34,282.82 475.82,282.82 476.31,282.82 476.79,282.82 477.27,282.82 477.75,282.82" fill="none" stroke="#f01818" stroke-width="1.1" stroke-linejoin="round"/>
<polyline points="565.50,238.14 566.10,246.60 566.69,253.99 567.29,260.45 567.88,266.10 568.48,271.03 569.07,275.35 569.67,279.11 570.27,282.41 570.86,285.29 571.46,287.80 572.05,290.00 572.65,291.92 573.25,293.60 573.84,295.07 574.44,296.35 575.03,297.47 575.63,298.45 576.22,299.31 576.82,300.05 577.42,300.71 578.01,301.28 578.61,301.78 579.20,302.21 579.80,302.60 580.39,302.93 580.99,303.22 581.59,303.48 582.18,303.70 582.78,303.89 583.37,304.06 583.97,304.21 584.57,304.34 585.16,304.45 585.76,304.55 586.35,304.64 586.95,304.72 587.54,304.78 588.14,304.84 588.74,304.89 589.33,304.93 589.93,304.97 590.52,305.01 591.12,305.04 591.71,305.06 592.31,305.08 592.91,305.10 593.50,305.12 594.10,305.14 594.69,305.15 595.29,305.16 595.89,305.17 596.48,305.18 597.08,305.19 597.67,305.19 598.27,305.20 598.86,305.20 599.46,305.21 600.06,305.21 600.65,305.22 601.25,305.22 601.84,305.22 602.44,305.22 603.03,305.23 603.63,305.23 604.23,305.23 604.82,305.23 605.42,305.23 606.01,305.23 606.61,305.23 607.21,305.23 607.80,305.24 608.40,305.24 608.99,305.24 609.59,305.24 610.18,305.24 610.78,305.24 611.38,305.24 611.97,305.24 612.57,305.24 613.16,305.24 613.76,305.24 614.35,305.24 614.95,305.24 615.55,305.24 616.14,305.24 616.74,305.24 617.33,305.24 617.93,305.24 618.53,305.24 619.12,305.24 619.72,305.24 620.31,305.24 620.91,305.24 621.50,305.24 622.10,305.24 622.70,305.24 623.29,305.24 623.89,305.24 624.48,305.24 625.08,305.24 625.67,305.24 626.27,305.24 626.87,305.24 627.46,305.24 628.06,305.24 628.65,305.24 629.25,305.24 629.85,305.24 630.44,305.24 631.04,305.24 631.63,305.24 632.23,305.24 632.82,305.24 633.42,305.24 634.02,305.24 634.61,305.24 635.21,305.24 635.80,305.24 636.40,305.24 636.99,305.24 637.59,305.24 638.19,305.24 638.78,305.24 639.38,305.24 639.97,305.24 640.57,305.24 641.17,305.24 641.76,305.24 642.36,305.24 642.95,305.24 643.55,305.24 644.14,305.24 644.74,305.24 645.34,305.24 645.93,305.24 646.53,305.24 647.12,305.24 647.72,305.24 648.31,305.24 648.91,305.24 649.51,305.24 650.10,305.24 650.70,305.24 651.29,305.24 651.89,305.24 652.48,305.24 653.08,305.24 653.68,305.24 654.27,305.24 654.87,305.24 655.46,305.24 656.06,305.24 656.66,305.24 657.25,305.24 657.85,305.24 658.44,305.24 659.04,305.24 659.63,305.24 660.23,305.24 660.83,305.24 661.42,305.24 662.02,305.24 662.61,305.24 663.21,305.24 663.80,305.24 664.40,305.24 665.00,305.24 665.59,305.24 666.19,305.24 666.78,305.24 667.38,305.24 667.98,305.24 668.57,305.24 669.17,305.24 669.76,305.24 670.36,305.24 670.95,305.24 671.55,305.24 672.15,305.24 672.74,305.24 673.34,305.24 673.93,305.24 674.53,305.24 675.12,305.24 675.72,305.24 676.32,305.24 676.91,305.24 677.51,305.24 678.10,305.24 678.70,305.24 679.30,305.24 679.89,305.24 680.49,305.24 681.08,305.24 681.68,305.24 682.27,305.24 682.87,305.24 683.47,305.24 684.06,305.24 684.66,305.24" fill="none" stroke="#f01818" stroke-width="1.1" stroke-linejoin="round"/>
<g stroke="#1a1a1a" stroke-width="0.15">
<path d="M29.5 29.5 V131.5 H153" fill="none" stroke="#666666" stroke-width="1"/>
<text transform="translate(35.35,138.00) scale(0.9,1)" font-size="5.833" text-anchor="middle">0</text>
<text transform="translate(60.09,138.00) scale(0.9,1)" font-size="5.833" text-anchor="middle">10</text>
<text transform="translate(84.83,138.00) scale(0.9,1)" font-size="5.833" text-anchor="middle">20</text>
<text transform="translate(109.57,138.00) scale(0.9,1)" font-size="5.833" text-anchor="middle">30</text>
<text transform="translate(134.31,138.00) scale(0.9,1)" font-size="5.833" text-anchor="middle">40</text>
<text transform="translate(27.00,40.30) scale(0.9,1)" font-size="5.833" text-anchor="end">0.4</text>
<text transform="translate(27.00,53.10) scale(0.9,1)" font-size="5.833" text-anchor="end">0.3</text>
<text transform="translate(27.00,65.90) scale(0.9,1)" font-size="5.833" text-anchor="end">0.2</text>
<text transform="translate(27.00,78.70) scale(0.9,1)" font-size="5.833" text-anchor="end">0.1</text>
<text transform="translate(27.00,91.50) scale(0.9,1)" font-size="5.833" text-anchor="end">0.0</text>
<text transform="translate(27.00,104.30) scale(0.9,1)" font-size="5.833" text-anchor="end">−0.1</text>
<text transform="translate(27.00,117.10) scale(0.9,1)" font-size="5.833" text-anchor="end">−0.2</text>
<text transform="translate(27.00,129.90) scale(0.9,1)" font-size="5.833" text-anchor="end">−0.3</text>
<text transform="translate(91.25,27.70) scale(0.91,1)" font-size="6.484" text-anchor="middle">Emerging Markets and Developing Economies</text>
<text transform="translate(91.25,144.80) scale(0.92,1)" font-size="6.413" text-anchor="middle">policy_sequencing_score</text>
<path d="M203.5 29.5 V131.5 H327" fill="none" stroke="#666666" stroke-width="1"/>
<text transform="translate(209.25,138.00) scale(0.9,1)" font-size="5.833" text-anchor="middle">0</text>
<text transform="translate(229.00,138.00) scale(0.9,1)" font-size="5.833" text-anchor="middle">5</text>
<text transform="translate(248.75,138.00) scale(0.9,1)" font-size="5.833" text-anchor="middle">10</text>
<text transform="translate(268.50,138.00) scale(0.9,1)" font-size="5.833" text-anchor="middle">15</text>
<text transform="translate(288.25,138.00) scale(0.9,1)" font-size="5.833" text-anchor="middle">20</text>
<text transform="translate(308.00,138.00) scale(0.9,1)" font-size="5.833" text-anchor="middle">25</text>
<text transform="translate(201.00,46.20) scale(0.9,1)" font-size="5.833" text-anchor="end">0.2</text>
<text transform="translate(201.00,66.60) scale(0.9,1)" font-size="5.833" text-anchor="end">0.1</text>
<text transform="translate(201.00,87.00) scale(0.9,1)" font-size="5.833" text-anchor="end">0.0</text>
<text transform="translate(201.00,107.40) scale(0.9,1)" font-size="5.833" text-anchor="end">−0.1</text>
<text transform="translate(201.00,127.80) scale(0.9,1)" font-size="5.833" text-anchor="end">−0.2</text>
<text transform="translate(265.25,27.70) scale(0.91,1)" font-size="6.484" text-anchor="middle">Advanced Economies</text>
<text transform="translate(265.25,144.80) scale(0.92,1)" font-size="6.413" text-anchor="middle">policy_sequencing_score</text>
<path d="M378.25 29.5 V131.5 H501.25" fill="none" stroke="#666666" stroke-width="1"/>
<text transform="translate(383.75,138.00) scale(0.9,1)" font-size="5.833" text-anchor="middle">0</text>
<text transform="translate(407.65,138.00) scale(0.9,1)" font-size="5.833" text-anchor="middle">10</text>
<text transform="translate(431.55,138.00) scale(0.9,1)" font-size="5.833" text-anchor="middle">20</text>
<text transform="translate(455.45,138.00) scale(0.9,1)" font-size="5.833" text-anchor="middle">30</text>
<text transform="translate(479.35,138.00) scale(0.9,1)" font-size="5.833" text-anchor="middle">40</text>
<text transform="translate(375.75,43.35) scale(0.9,1)" font-size="5.833" text-anchor="end">0.2</text>
<text transform="translate(375.75,58.45) scale(0.9,1)" font-size="5.833" text-anchor="end">0.1</text>
<text transform="translate(375.75,73.55) scale(0.9,1)" font-size="5.833" text-anchor="end">0.0</text>
<text transform="translate(375.75,88.65) scale(0.9,1)" font-size="5.833" text-anchor="end">−0.1</text>
<text transform="translate(375.75,103.75) scale(0.9,1)" font-size="5.833" text-anchor="end">−0.2</text>
<text transform="translate(375.75,118.85) scale(0.9,1)" font-size="5.833" text-anchor="end">−0.3</text>
<text transform="translate(439.75,27.70) scale(0.91,1)" font-size="6.484" text-anchor="middle">G20 Countries</text>
<text transform="translate(439.75,144.80) scale(0.92,1)" font-size="6.413" text-anchor="middle">policy_sequencing_score</text>
<path d="M558 29.5 V131.5 H681.75" fill="none" stroke="#666666" stroke-width="1"/>
<text transform="translate(563.50,138.00) scale(0.9,1)" font-size="5.833" text-anchor="middle">0</text>
<text transform="translate(583.25,138.00) scale(0.9,1)" font-size="5.833" text-anchor="middle">5</text>
<text transform="translate(603.00,138.00) scale(0.9,1)" font-size="5.833" text-anchor="middle">10</text>
<text transform="translate(622.75,138.00) scale(0.9,1)" font-size="5.833" text-anchor="middle">15</text>
<text transform="translate(642.50,138.00) scale(0.9,1)" font-size="5.833" text-anchor="middle">20</text>
<text transform="translate(662.25,138.00) scale(0.9,1)" font-size="5.833" text-anchor="middle">25</text>
<text transform="translate(555.50,33.45) scale(0.9,1)" font-size="5.833" text-anchor="end">0.010</text>
<text transform="translate(555.50,54.75) scale(0.9,1)" font-size="5.833" text-anchor="end">0.005</text>
<text transform="translate(555.50,76.05) scale(0.9,1)" font-size="5.833" text-anchor="end">0.000</text>
<text transform="translate(555.50,97.35) scale(0.9,1)" font-size="5.833" text-anchor="end">−0.005</text>
<text transform="translate(555.50,118.65) scale(0.9,1)" font-size="5.833" text-anchor="end">−0.010</text>
<text transform="translate(619.88,27.70) scale(0.91,1)" font-size="6.484" text-anchor="middle">OECD Countries</text>
<text transform="translate(619.88,144.80) scale(0.92,1)" font-size="6.413" text-anchor="middle">policy_sequencing_score</text>
<path d="M27.5 210.25 V311.95 H150.75" fill="none" stroke="#666666" stroke-width="1"/>
<text transform="translate(33.20,318.00) scale(0.9,1)" font-size="5.833" text-anchor="middle">0</text>
<text transform="translate(54.21,318.00) scale(0.9,1)" font-size="5.833" text-anchor="middle">100</text>
<text transform="translate(75.22,318.00) scale(0.9,1)" font-size="5.833" text-anchor="middle">200</text>
<text transform="translate(96.23,318.00) scale(0.9,1)" font-size="5.833" text-anchor="middle">300</text>
<text transform="translate(117.24,318.00) scale(0.9,1)" font-size="5.833" text-anchor="middle">400</text>
<text transform="translate(138.25,318.00) scale(0.9,1)" font-size="5.833" text-anchor="middle">500</text>
<text transform="translate(25.00,227.80) scale(0.9,1)" font-size="5.833" text-anchor="end">0.6</text>
<text transform="translate(25.00,246.30) scale(0.9,1)" font-size="5.833" text-anchor="end">0.4</text>
<text transform="translate(25.00,264.80) scale(0.9,1)" font-size="5.833" text-anchor="end">0.2</text>
<text transform="translate(25.00,283.30) scale(0.9,1)" font-size="5.833" text-anchor="end">0.0</text>
<text transform="translate(25.00,301.80) scale(0.9,1)" font-size="5.833" text-anchor="end">−0.2</text>
<text transform="translate(89.12,207.80) scale(0.91,1)" font-size="6.484" text-anchor="middle">Emerging Markets and Developing Economies</text>
<text transform="translate(89.12,324.80) scale(0.92,1)" font-size="6.413" text-anchor="middle">cumulative_x_bindingness</text>
<path d="M201.75 210.25 V311.95 H324.75" fill="none" stroke="#666666" stroke-width="1"/>
<text transform="translate(207.40,318.00) scale(0.9,1)" font-size="5.833" text-anchor="middle">0</text>
<text transform="translate(238.07,318.00) scale(0.9,1)" font-size="5.833" text-anchor="middle">100</text>
<text transform="translate(268.74,318.00) scale(0.9,1)" font-size="5.833" text-anchor="middle">200</text>
<text transform="translate(299.41,318.00) scale(0.9,1)" font-size="5.833" text-anchor="middle">300</text>
<text transform="translate(199.25,225.10) scale(0.9,1)" font-size="5.833" text-anchor="end">0.2</text>
<text transform="translate(199.25,243.20) scale(0.9,1)" font-size="5.833" text-anchor="end">0.1</text>
<text transform="translate(199.25,261.30) scale(0.9,1)" font-size="5.833" text-anchor="end">0.0</text>
<text transform="translate(199.25,279.40) scale(0.9,1)" font-size="5.833" text-anchor="end">−0.1</text>
<text transform="translate(199.25,297.50) scale(0.9,1)" font-size="5.833" text-anchor="end">−0.2</text>
<text transform="translate(263.25,207.80) scale(0.91,1)" font-size="6.484" text-anchor="middle">Advanced Economies</text>
<text transform="translate(263.25,324.80) scale(0.92,1)" font-size="6.413" text-anchor="middle">cumulative_x_bindingness</text>
<path d="M375.75 210.25 V311.95 H499" fill="none" stroke="#666666" stroke-width="1"/>
<text transform="translate(381.50,318.00) scale(0.9,1)" font-size="5.833" text-anchor="middle">0</text>
<text transform="translate(400.75,318.00) scale(0.9,1)" font-size="5.833" text-anchor="middle">100</text>
<text transform="translate(420.00,318.00) scale(0.9,1)" font-size="5.833" text-anchor="middle">200</text>
<text transform="translate(439.25,318.00) scale(0.9,1)" font-size="5.833" text-anchor="middle">300</text>
<text transform="translate(458.50,318.00) scale(0.9,1)" font-size="5.833" text-anchor="middle">400</text>
<text transform="translate(477.75,318.00) scale(0.9,1)" font-size="5.833" text-anchor="middle">500</text>
<text transform="translate(497.00,318.00) scale(0.9,1)" font-size="5.833" text-anchor="middle">600</text>
<text transform="translate(373.25,218.28) scale(0.9,1)" font-size="5.833" text-anchor="end">0.2</text>
<text transform="translate(373.25,239.84) scale(0.9,1)" font-size="5.833" text-anchor="end">0.1</text>
<text transform="translate(373.25,261.40) scale(0.9,1)" font-size="5.833" text-anchor="end">0.0</text>
<text transform="translate(373.25,282.96) scale(0.9,1)" font-size="5.833" text-anchor="end">−0.1</text>
<text transform="translate(373.25,304.52) scale(0.9,1)" font-size="5.833" text-anchor="end">−0.2</text>
<text transform="translate(437.38,207.80) scale(0.91,1)" font-size="6.484" text-anchor="middle">G20 Countries</text>
<text transform="translate(437.38,324.80) scale(0.92,1)" font-size="6.413" text-anchor="middle">cumulative_x_bindingness</text>
<path d="M560 210.25 V311.95 H685" fill="none" stroke="#666666" stroke-width="1"/>
<text transform="translate(565.50,318.00) scale(0.9,1)" font-size="5.833" text-anchor="middle">0</text>
<text transform="translate(596.45,318.00) scale(0.9,1)" font-size="5.833" text-anchor="middle">100</text>
<text transform="translate(627.40,318.00) scale(0.9,1)" font-size="5.833" text-anchor="middle">200</text>
<text transform="translate(658.35,318.00) scale(0.9,1)" font-size="5.833" text-anchor="middle">300</text>
<text transform="translate(557.50,223.12) scale(0.9,1)" font-size="5.833" text-anchor="end">0.0075</text>
<text transform="translate(557.50,235.18) scale(0.9,1)" font-size="5.833" text-anchor="end">0.0050</text>
<text transform="translate(557.50,247.24) scale(0.9,1)" font-size="5.833" text-anchor="end">0.0025</text>
<text transform="translate(557.50,259.30) scale(0.9,1)" font-size="5.833" text-anchor="end">0.0000</text>
<text transform="translate(557.50,271.36) scale(0.9,1)" font-size="5.833" text-anchor="end">−0.0025</text>
<text transform="translate(557.50,283.42) scale(0.9,1)" font-size="5.833" text-anchor="end">−0.0050</text>
<text transform="translate(557.50,295.48) scale(0.9,1)" font-size="5.833" text-anchor="end">−0.0075</text>
<text transform="translate(557.50,307.54) scale(0.9,1)" font-size="5.833" text-anchor="end">−0.0100</text>
<text transform="translate(622.50,207.80) scale(0.91,1)" font-size="6.484" text-anchor="middle">OECD Countries</text>
<text transform="translate(622.50,324.80) scale(0.92,1)" font-size="6.413" text-anchor="middle">cumulative_x_bindingness</text>
</g>
<g stroke="#1a1a1a" stroke-width="0.1">
<text transform="translate(7.9,80.5) rotate(-90) scale(0.9,1)" font-size="6.556" text-anchor="middle">SHAP value for</text>
<text transform="translate(14.4,80.5) rotate(-90) scale(0.9,1)" font-size="6.556" text-anchor="middle">policy_sequencing_score</text>
<text transform="translate(181.5,80.7) rotate(-90) scale(0.9,1)" font-size="6.556" text-anchor="middle">SHAP value for</text>
<text transform="translate(189.0,80.7) rotate(-90) scale(0.9,1)" font-size="6.556" text-anchor="middle">policy_sequencing_score</text>
<text transform="translate(356.7,80.5) rotate(-90) scale(0.9,1)" font-size="6.556" text-anchor="middle">SHAP value for</text>
<text transform="translate(363.1,80.5) rotate(-90) scale(0.9,1)" font-size="6.556" text-anchor="middle">policy_sequencing_score</text>
<text transform="translate(529.6,80.5) rotate(-90) scale(0.9,1)" font-size="6.556" text-anchor="middle">SHAP value for</text>
<text transform="translate(536.6,80.5) rotate(-90) scale(0.9,1)" font-size="6.556" text-anchor="middle">policy_sequencing_score</text>
<text transform="translate(6.2,261) rotate(-90) scale(0.9,1)" font-size="6.556" text-anchor="middle">SHAP value for</text>
<text transform="translate(12.1,261) rotate(-90) scale(0.9,1)" font-size="6.556" text-anchor="middle">cumulative_x_bindingness</text>
<text transform="translate(180.3,261) rotate(-90) scale(0.9,1)" font-size="6.556" text-anchor="middle">SHAP value for</text>
<text transform="translate(187.0,261) rotate(-90) scale(0.9,1)" font-size="6.556" text-anchor="middle">cumulative_x_bindingness</text>
<text transform="translate(354.3,261) rotate(-90) scale(0.9,1)" font-size="6.556" text-anchor="middle">SHAP value for</text>
<text transform="translate(361.0,261) rotate(-90) scale(0.9,1)" font-size="6.556" text-anchor="middle">cumulative_x_bindingness</text>
<text transform="translate(529.0,261) rotate(-90) scale(0.9,1)" font-size="6.556" text-anchor="middle">SHAP value for</text>
<text transform="translate(535.8,261) rotate(-90) scale(0.9,1)" font-size="6.556" text-anchor="middle">cumulative_x_bindingness</text>
</g>
<g stroke="#1a1a1a" stroke-width="0.08">
<circle cx="47.6" cy="124.4" r="0.65" fill="#f04040" fill-opacity="0.75"/>
<text x="57.3" y="125.9" font-size="5.7"><tspan>EMDE: 0.22log(0.06</tspan><tspan font-style="italic">x</tspan><tspan> + 0.41) + 0.16</tspan></text>
<circle cx="243.5" cy="36.8" r="0.65" fill="#f04040" fill-opacity="0.75"/>
<text x="253.2" y="38.2" font-size="5.7"><tspan>ADV: 0.05e</tspan><tspan font-size="4.22" letter-spacing="-0.05" dy="-1.7">−0.51</tspan><tspan font-size="4.22" letter-spacing="-0.05" font-style="italic">x</tspan><tspan font-size="4.22" letter-spacing="-0.05"> + 0.3</tspan><tspan dy="1.7"> − 0.03</tspan></text>
<circle cx="416" cy="36.7" r="0.65" fill="#f04040" fill-opacity="0.75"/>
<text x="425.2" y="38.2" font-size="5.7"><tspan>G20: 0.34e</tspan><tspan font-size="4.22" letter-spacing="-0.05" dy="-1.7">−0.12</tspan><tspan font-size="4.22" letter-spacing="-0.05" font-style="italic">x</tspan><tspan font-size="4.22" letter-spacing="-0.05"> − 0.33</tspan><tspan dy="1.7"> − 0.16</tspan></text>
<circle cx="591.3" cy="36.8" r="0.65" fill="#f04040" fill-opacity="0.75"/>
<text x="600.6" y="38.2" font-size="5.7"><tspan>OECD: 0.02e</tspan><tspan font-size="4.22" letter-spacing="-0.05" dy="-1.7">−0.22</tspan><tspan font-size="4.22" letter-spacing="-0.05" font-style="italic">x</tspan><tspan font-size="4.22" letter-spacing="-0.05"> − 0.69</tspan><tspan dy="1.7"> − 0.01</tspan></text>
<circle cx="49.2" cy="304.7" r="0.65" fill="#f04040" fill-opacity="0.75"/>
<text x="58.8" y="306.3" font-size="5.7"><tspan>EMDE: 0.25log(0.01</tspan><tspan font-style="italic">x</tspan><tspan> + 0.27) + 0.3</tspan></text>
<circle cx="242.8" cy="217.3" r="0.65" fill="#f04040" fill-opacity="0.75"/>
<text x="251.8" y="218.9" font-size="5.7"><tspan>ADV: 0.2e</tspan><tspan font-size="4.22" letter-spacing="-0.05" dy="-1.7">−0.03</tspan><tspan font-size="4.22" letter-spacing="-0.05" font-style="italic">x</tspan><tspan font-size="4.22" letter-spacing="-0.05"> − 0.87</tspan><tspan dy="1.7"> − 0.16</tspan></text>
<circle cx="426.5" cy="217.3" r="0.65" fill="#f04040" fill-opacity="0.75"/>
<text x="435.8" y="218.9" font-size="5.7"><tspan>G20: 0.19e</tspan><tspan font-size="4.22" letter-spacing="-0.05" dy="-1.7">−0.03</tspan><tspan font-size="4.22" letter-spacing="-0.05" font-style="italic">x</tspan><tspan dy="1.7"> − 0.11</tspan></text>
<circle cx="592.5" cy="217.3" r="0.65" fill="#f04040" fill-opacity="0.75"/>
<text x="602" y="218.9" font-size="5.7"><tspan>OECD: 0.01e</tspan><tspan font-size="4.22" letter-spacing="-0.05" dy="-1.7">−0.07</tspan><tspan font-size="4.22" letter-spacing="-0.05" font-style="italic">x</tspan><tspan font-size="4.22" letter-spacing="-0.05"> + 0.33</tspan><tspan dy="1.7"> − 0.01</tspan></text>
</g>
<text x="107.5" y="10.9" font-family='"Liberation Serif", serif' font-weight="bold" font-size="14.6" text-anchor="middle">A</text>
<text x="273.3" y="10.9" font-family='"Liberation Serif", serif' font-weight="bold" font-size="14.6" text-anchor="middle">B</text>
<text x="439.3" y="10.9" font-family='"Liberation Serif", serif' font-weight="bold" font-size="14.6" text-anchor="middle">C</text>
<text x="604.6" y="10.9" font-family='"Liberation Serif", serif' font-weight="bold" font-size="14.6" text-anchor="middle">D</text>
<text x="107.5" y="181" font-family='"Liberation Serif", serif' font-weight="bold" font-size="14.6" text-anchor="middle">E</text>
<text x="272" y="181" font-family='"Liberation Serif", serif' font-weight="bold" font-size="14.6" text-anchor="middle">F</text>
<text x="437.5" y="181" font-family='"Liberation Serif", serif' font-weight="bold" font-size="14.6" text-anchor="middle">G</text>
<text x="604.5" y="181" font-family='"Liberation Serif", serif' font-weight="bold" font-size="14.6" text-anchor="middle">H</text>
</svg>
</body></html>
